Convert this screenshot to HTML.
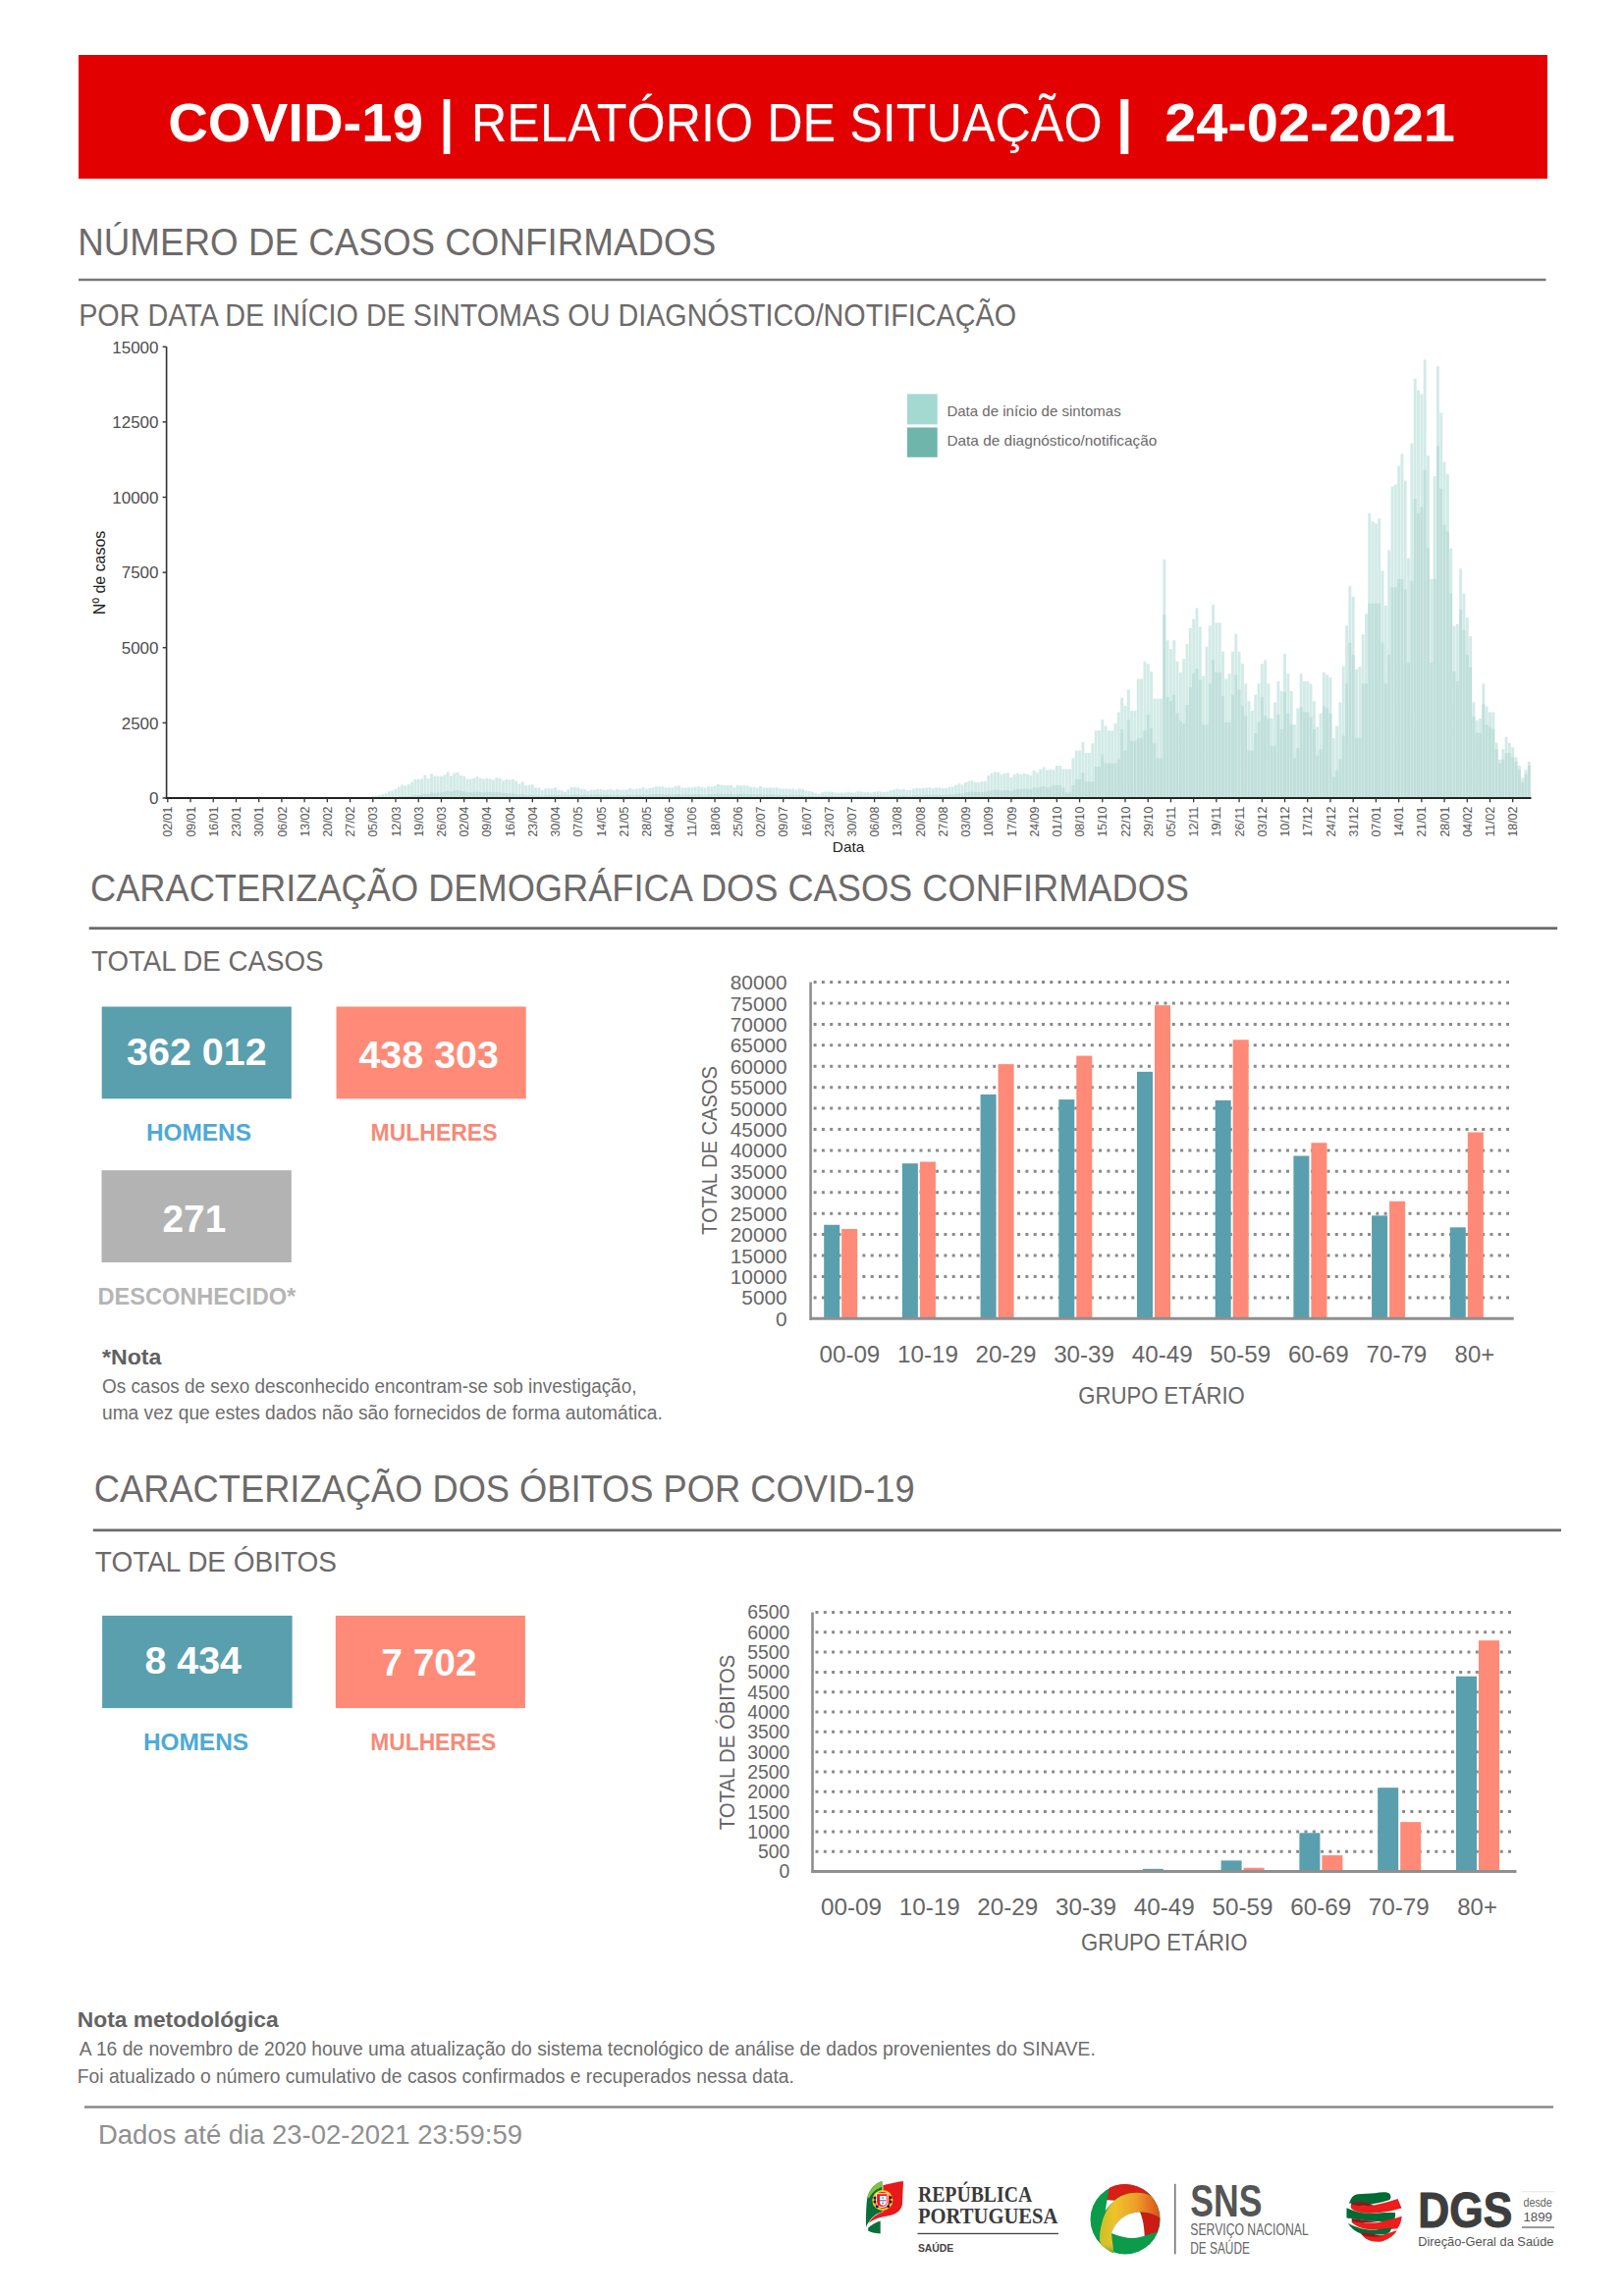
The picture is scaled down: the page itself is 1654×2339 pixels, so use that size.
<!DOCTYPE html>
<html><head><meta charset="utf-8"><title>COVID-19 Relatório de Situação</title>
<style>html,body{margin:0;padding:0;background:#fff;}body{width:1654px;height:2339px;overflow:hidden;position:relative;font-family:"Liberation Sans",sans-serif;}svg{position:absolute;left:0;top:0;}</style>
</head><body>
<svg width="1654" height="2339" viewBox="0 0 1654 2339">
<rect x="80.00" y="56.00" width="1496.00" height="126.00" fill="#e30000"/>
<text x="171.2" y="144.2" font-size="55.5" fill="#fff" font-weight="bold" text-anchor="start" textLength="259.8" lengthAdjust="spacingAndGlyphs" font-family="&quot;Liberation Sans&quot;, sans-serif">COVID-19</text>
<rect x="451.70" y="101.00" width="6.70" height="56.00" fill="#fff"/>
<text x="480.0" y="144.2" font-size="55.5" fill="#fff" text-anchor="start" textLength="642.6" lengthAdjust="spacingAndGlyphs" font-family="&quot;Liberation Sans&quot;, sans-serif">RELATÓRIO DE SITUAÇÃO</text>
<rect x="1141.30" y="101.00" width="8.00" height="56.00" fill="#fff"/>
<text x="1186.2" y="144.2" font-size="55.5" fill="#fff" font-weight="bold" text-anchor="start" textLength="295.8" lengthAdjust="spacingAndGlyphs" font-family="&quot;Liberation Sans&quot;, sans-serif">24-02-2021</text>
<text x="79.2" y="259.8" font-size="38.0" fill="#6d6a6a" text-anchor="start" textLength="650.0" lengthAdjust="spacingAndGlyphs" font-family="&quot;Liberation Sans&quot;, sans-serif">NÚMERO DE CASOS CONFIRMADOS</text>
<line x1="80.00" y1="285.00" x2="1574.50" y2="285.00" stroke="#7a7878" stroke-width="2.6"/>
<text x="80.2" y="332.2" font-size="31.0" fill="#6d6a6a" text-anchor="start" textLength="954.8" lengthAdjust="spacingAndGlyphs" font-family="&quot;Liberation Sans&quot;, sans-serif">POR DATA DE INÍCIO DE SINTOMAS OU DIAGNÓSTICO/NOTIFICAÇÃO</text>
<path d="M368.37 812.72h2.9V813.0h-2.9zM371.69 812.36h2.9V813.0h-2.9zM375.00 812.17h2.9V813.0h-2.9zM378.32 811.30h2.9V813.0h-2.9zM381.64 810.63h2.9V813.0h-2.9zM384.96 810.26h2.9V813.0h-2.9zM388.27 809.31h2.9V813.0h-2.9zM391.59 808.36h2.9V813.0h-2.9zM394.91 806.36h2.9V813.0h-2.9zM398.22 805.44h2.9V813.0h-2.9zM401.54 803.87h2.9V813.0h-2.9zM404.86 801.86h2.9V813.0h-2.9zM408.17 799.44h2.9V813.0h-2.9zM411.49 800.44h2.9V813.0h-2.9zM414.81 799.11h2.9V813.0h-2.9zM418.13 796.56h2.9V813.0h-2.9zM421.44 793.64h2.9V813.0h-2.9zM424.76 793.63h2.9V813.0h-2.9zM428.08 793.46h2.9V813.0h-2.9zM431.39 789.53h2.9V813.0h-2.9zM434.71 793.32h2.9V813.0h-2.9zM438.03 788.13h2.9V813.0h-2.9zM441.34 790.48h2.9V813.0h-2.9zM444.66 790.56h2.9V813.0h-2.9zM447.98 790.71h2.9V813.0h-2.9zM451.30 789.59h2.9V813.0h-2.9zM454.61 786.60h2.9V813.0h-2.9zM457.93 790.16h2.9V813.0h-2.9zM461.25 787.57h2.9V813.0h-2.9zM464.56 787.01h2.9V813.0h-2.9zM467.88 790.11h2.9V813.0h-2.9zM471.20 790.66h2.9V813.0h-2.9zM474.51 793.42h2.9V813.0h-2.9zM477.83 793.62h2.9V813.0h-2.9zM481.15 793.05h2.9V813.0h-2.9zM484.47 791.00h2.9V813.0h-2.9zM487.78 792.66h2.9V813.0h-2.9zM491.10 793.59h2.9V813.0h-2.9zM494.42 792.66h2.9V813.0h-2.9zM497.73 793.44h2.9V813.0h-2.9zM501.05 794.31h2.9V813.0h-2.9zM504.37 792.15h2.9V813.0h-2.9zM507.68 792.76h2.9V813.0h-2.9zM511.00 795.15h2.9V813.0h-2.9zM514.32 793.96h2.9V813.0h-2.9zM517.63 794.49h2.9V813.0h-2.9zM520.95 794.06h2.9V813.0h-2.9zM524.27 795.74h2.9V813.0h-2.9zM527.59 798.45h2.9V813.0h-2.9zM530.90 796.58h2.9V813.0h-2.9zM534.22 800.19h2.9V813.0h-2.9zM537.54 799.77h2.9V813.0h-2.9zM540.85 799.32h2.9V813.0h-2.9zM544.17 802.32h2.9V813.0h-2.9zM547.49 802.60h2.9V813.0h-2.9zM550.81 804.82h2.9V813.0h-2.9zM554.12 803.27h2.9V813.0h-2.9zM557.44 802.89h2.9V813.0h-2.9zM560.76 803.17h2.9V813.0h-2.9zM564.07 802.30h2.9V813.0h-2.9zM567.39 804.80h2.9V813.0h-2.9zM570.71 805.29h2.9V813.0h-2.9zM574.02 806.73h2.9V813.0h-2.9zM577.34 804.25h2.9V813.0h-2.9zM580.66 802.07h2.9V813.0h-2.9zM583.97 801.72h2.9V813.0h-2.9zM587.29 802.14h2.9V813.0h-2.9zM590.61 803.86h2.9V813.0h-2.9zM593.93 804.07h2.9V813.0h-2.9zM597.24 805.87h2.9V813.0h-2.9zM600.56 804.50h2.9V813.0h-2.9zM603.88 804.47h2.9V813.0h-2.9zM607.19 803.64h2.9V813.0h-2.9zM610.51 803.84h2.9V813.0h-2.9zM613.83 804.81h2.9V813.0h-2.9zM617.14 804.48h2.9V813.0h-2.9zM620.46 803.75h2.9V813.0h-2.9zM623.78 805.01h2.9V813.0h-2.9zM627.10 803.93h2.9V813.0h-2.9zM630.41 804.45h2.9V813.0h-2.9zM633.73 804.45h2.9V813.0h-2.9zM637.05 804.46h2.9V813.0h-2.9zM640.36 802.69h2.9V813.0h-2.9zM643.68 804.06h2.9V813.0h-2.9zM647.00 803.66h2.9V813.0h-2.9zM650.32 803.19h2.9V813.0h-2.9zM653.63 801.88h2.9V813.0h-2.9zM656.95 803.70h2.9V813.0h-2.9zM660.27 802.66h2.9V813.0h-2.9zM663.58 802.27h2.9V813.0h-2.9zM666.90 801.28h2.9V813.0h-2.9zM670.22 801.35h2.9V813.0h-2.9zM673.53 801.14h2.9V813.0h-2.9zM676.85 802.59h2.9V813.0h-2.9zM680.17 802.14h2.9V813.0h-2.9zM683.48 802.21h2.9V813.0h-2.9zM686.80 800.70h2.9V813.0h-2.9zM690.12 800.41h2.9V813.0h-2.9zM693.44 802.56h2.9V813.0h-2.9zM696.75 802.45h2.9V813.0h-2.9zM700.07 802.26h2.9V813.0h-2.9zM703.39 802.21h2.9V813.0h-2.9zM706.70 801.47h2.9V813.0h-2.9zM710.02 801.14h2.9V813.0h-2.9zM713.34 802.01h2.9V813.0h-2.9zM716.65 802.58h2.9V813.0h-2.9zM719.97 801.23h2.9V813.0h-2.9zM723.29 801.20h2.9V813.0h-2.9zM726.61 800.45h2.9V813.0h-2.9zM729.92 799.11h2.9V813.0h-2.9zM733.24 799.71h2.9V813.0h-2.9zM736.56 800.07h2.9V813.0h-2.9zM739.87 799.94h2.9V813.0h-2.9zM743.19 799.94h2.9V813.0h-2.9zM746.51 801.97h2.9V813.0h-2.9zM749.83 799.65h2.9V813.0h-2.9zM753.14 800.19h2.9V813.0h-2.9zM756.46 800.11h2.9V813.0h-2.9zM759.78 800.51h2.9V813.0h-2.9zM763.09 801.65h2.9V813.0h-2.9zM766.41 801.63h2.9V813.0h-2.9zM769.73 802.45h2.9V813.0h-2.9zM773.04 800.97h2.9V813.0h-2.9zM776.36 802.57h2.9V813.0h-2.9zM779.68 802.56h2.9V813.0h-2.9zM782.99 802.16h2.9V813.0h-2.9zM786.31 802.53h2.9V813.0h-2.9zM789.63 802.30h2.9V813.0h-2.9zM792.95 803.30h2.9V813.0h-2.9zM796.26 803.67h2.9V813.0h-2.9zM799.58 803.53h2.9V813.0h-2.9zM802.90 803.89h2.9V813.0h-2.9zM806.21 803.51h2.9V813.0h-2.9zM809.53 804.64h2.9V813.0h-2.9zM812.85 803.14h2.9V813.0h-2.9zM816.16 804.10h2.9V813.0h-2.9zM819.48 805.42h2.9V813.0h-2.9zM822.80 806.08h2.9V813.0h-2.9zM826.12 806.80h2.9V813.0h-2.9zM829.43 807.66h2.9V813.0h-2.9zM832.75 808.82h2.9V813.0h-2.9zM836.07 807.35h2.9V813.0h-2.9zM839.38 806.48h2.9V813.0h-2.9zM842.70 806.61h2.9V813.0h-2.9zM846.02 806.74h2.9V813.0h-2.9zM849.34 807.48h2.9V813.0h-2.9zM852.65 807.59h2.9V813.0h-2.9zM855.97 807.39h2.9V813.0h-2.9zM859.29 807.41h2.9V813.0h-2.9zM862.60 806.49h2.9V813.0h-2.9zM865.92 807.36h2.9V813.0h-2.9zM869.24 807.48h2.9V813.0h-2.9zM872.55 805.98h2.9V813.0h-2.9zM875.87 806.52h2.9V813.0h-2.9zM879.19 807.19h2.9V813.0h-2.9zM882.51 806.67h2.9V813.0h-2.9zM885.82 807.52h2.9V813.0h-2.9zM889.14 806.87h2.9V813.0h-2.9zM892.46 806.31h2.9V813.0h-2.9zM895.77 806.57h2.9V813.0h-2.9zM899.09 806.90h2.9V813.0h-2.9zM902.41 806.45h2.9V813.0h-2.9zM905.72 805.18h2.9V813.0h-2.9zM909.04 804.53h2.9V813.0h-2.9zM912.36 803.44h2.9V813.0h-2.9zM915.67 804.19h2.9V813.0h-2.9zM918.99 803.92h2.9V813.0h-2.9zM922.31 805.06h2.9V813.0h-2.9zM925.63 805.02h2.9V813.0h-2.9zM928.94 803.53h2.9V813.0h-2.9zM932.26 802.87h2.9V813.0h-2.9zM935.58 802.88h2.9V813.0h-2.9zM938.89 802.70h2.9V813.0h-2.9zM942.21 802.39h2.9V813.0h-2.9zM945.53 802.30h2.9V813.0h-2.9zM948.85 803.26h2.9V813.0h-2.9zM952.16 802.22h2.9V813.0h-2.9zM955.48 802.34h2.9V813.0h-2.9zM958.80 802.93h2.9V813.0h-2.9zM962.11 802.67h2.9V813.0h-2.9zM965.43 801.67h2.9V813.0h-2.9zM968.75 801.44h2.9V813.0h-2.9zM972.06 799.63h2.9V813.0h-2.9zM975.38 798.25h2.9V813.0h-2.9zM978.70 799.37h2.9V813.0h-2.9zM982.02 796.90h2.9V813.0h-2.9zM985.33 795.87h2.9V813.0h-2.9zM988.65 795.14h2.9V813.0h-2.9zM991.97 796.68h2.9V813.0h-2.9zM995.28 796.79h2.9V813.0h-2.9zM998.60 796.28h2.9V813.0h-2.9zM1001.92 795.94h2.9V813.0h-2.9zM1005.23 790.20h2.9V813.0h-2.9zM1008.55 787.84h2.9V813.0h-2.9zM1011.87 786.33h2.9V813.0h-2.9zM1015.18 786.79h2.9V813.0h-2.9zM1018.50 788.99h2.9V813.0h-2.9zM1021.82 788.09h2.9V813.0h-2.9zM1025.14 787.36h2.9V813.0h-2.9zM1028.45 791.74h2.9V813.0h-2.9zM1031.77 788.79h2.9V813.0h-2.9zM1035.09 787.74h2.9V813.0h-2.9zM1038.40 788.77h2.9V813.0h-2.9zM1041.72 788.05h2.9V813.0h-2.9zM1045.04 788.75h2.9V813.0h-2.9zM1048.36 789.72h2.9V813.0h-2.9zM1051.67 785.12h2.9V813.0h-2.9zM1054.99 787.24h2.9V813.0h-2.9zM1058.31 783.40h2.9V813.0h-2.9zM1061.62 781.42h2.9V813.0h-2.9zM1064.94 784.59h2.9V813.0h-2.9zM1068.26 783.80h2.9V813.0h-2.9zM1071.57 784.17h2.9V813.0h-2.9zM1074.89 779.88h2.9V813.0h-2.9zM1078.21 779.88h2.9V813.0h-2.9zM1081.53 783.56h2.9V813.0h-2.9zM1084.84 783.56h2.9V813.0h-2.9zM1088.16 783.56h2.9V813.0h-2.9zM1091.48 772.21h2.9V813.0h-2.9zM1094.79 764.54h2.9V813.0h-2.9zM1098.11 764.54h2.9V813.0h-2.9zM1101.43 755.95h2.9V813.0h-2.9zM1104.74 767.00h2.9V813.0h-2.9zM1108.06 767.00h2.9V813.0h-2.9zM1111.38 757.18h2.9V813.0h-2.9zM1114.69 744.30h2.9V813.0h-2.9zM1118.01 744.30h2.9V813.0h-2.9zM1121.33 733.26h2.9V813.0h-2.9zM1124.65 739.39h2.9V813.0h-2.9zM1127.96 744.30h2.9V813.0h-2.9zM1131.28 744.30h2.9V813.0h-2.9zM1134.60 736.94h2.9V813.0h-2.9zM1137.91 725.59h2.9V813.0h-2.9zM1141.23 710.87h2.9V813.0h-2.9zM1144.55 719.15h2.9V813.0h-2.9zM1147.87 702.59h2.9V813.0h-2.9zM1151.18 724.06h2.9V813.0h-2.9zM1154.50 724.06h2.9V813.0h-2.9zM1157.82 691.55h2.9V813.0h-2.9zM1161.13 691.55h2.9V813.0h-2.9zM1164.45 673.76h2.9V813.0h-2.9zM1167.77 676.21h2.9V813.0h-2.9zM1171.08 684.19h2.9V813.0h-2.9zM1174.40 711.79h2.9V813.0h-2.9zM1177.72 711.79h2.9V813.0h-2.9zM1181.04 711.79h2.9V813.0h-2.9zM1184.35 570.09h2.9V813.0h-2.9zM1187.67 652.29h2.9V813.0h-2.9zM1190.99 661.18h2.9V813.0h-2.9zM1194.30 652.29h2.9V813.0h-2.9zM1197.62 673.76h2.9V813.0h-2.9zM1200.94 685.11h2.9V813.0h-2.9zM1204.25 671.30h2.9V813.0h-2.9zM1207.57 655.97h2.9V813.0h-2.9zM1210.89 639.71h2.9V813.0h-2.9zM1214.20 630.82h2.9V813.0h-2.9zM1217.52 619.47h2.9V813.0h-2.9zM1220.84 638.49h2.9V813.0h-2.9zM1224.16 688.79h2.9V813.0h-2.9zM1227.47 658.73h2.9V813.0h-2.9zM1230.79 637.26h2.9V813.0h-2.9zM1234.11 615.79h2.9V813.0h-2.9zM1237.42 634.50h2.9V813.0h-2.9zM1240.74 634.50h2.9V813.0h-2.9zM1244.06 663.64h2.9V813.0h-2.9zM1247.38 691.55h2.9V813.0h-2.9zM1250.69 686.33h2.9V813.0h-2.9zM1254.01 663.64h2.9V813.0h-2.9zM1257.33 645.85h2.9V813.0h-2.9zM1260.64 663.64h2.9V813.0h-2.9zM1263.96 676.21h2.9V813.0h-2.9zM1267.28 696.45h2.9V813.0h-2.9zM1270.59 714.24h2.9V813.0h-2.9zM1273.91 724.06h2.9V813.0h-2.9zM1277.23 707.80h2.9V813.0h-2.9zM1280.55 696.45h2.9V813.0h-2.9zM1283.86 676.21h2.9V813.0h-2.9zM1287.18 672.53h2.9V813.0h-2.9zM1290.50 696.45h2.9V813.0h-2.9zM1293.81 731.72h2.9V813.0h-2.9zM1297.13 715.47h2.9V813.0h-2.9zM1300.45 694.00h2.9V813.0h-2.9zM1303.76 704.12h2.9V813.0h-2.9zM1307.08 666.09h2.9V813.0h-2.9zM1310.40 686.33h2.9V813.0h-2.9zM1313.71 704.12h2.9V813.0h-2.9zM1317.03 738.17h2.9V813.0h-2.9zM1320.35 721.60h2.9V813.0h-2.9zM1323.67 686.33h2.9V813.0h-2.9zM1326.98 694.00h2.9V813.0h-2.9zM1330.30 694.00h2.9V813.0h-2.9zM1333.62 696.45h2.9V813.0h-2.9zM1336.93 714.24h2.9V813.0h-2.9zM1340.25 740.62h2.9V813.0h-2.9zM1343.57 726.82h2.9V813.0h-2.9zM1346.88 685.11h2.9V813.0h-2.9zM1350.20 687.56h2.9V813.0h-2.9zM1353.52 690.32h2.9V813.0h-2.9zM1356.84 751.97h2.9V813.0h-2.9zM1360.15 739.39h2.9V813.0h-2.9zM1363.47 715.47h2.9V813.0h-2.9zM1366.79 678.67h2.9V813.0h-2.9zM1370.10 637.26h2.9V813.0h-2.9zM1373.42 596.78h2.9V813.0h-2.9zM1376.74 608.12h2.9V813.0h-2.9zM1380.06 681.73h2.9V813.0h-2.9zM1383.37 679.59h2.9V813.0h-2.9zM1386.69 646.16h2.9V813.0h-2.9zM1390.01 625.30h2.9V813.0h-2.9zM1393.32 522.86h2.9V813.0h-2.9zM1396.64 531.14h2.9V813.0h-2.9zM1399.96 533.29h2.9V813.0h-2.9zM1403.27 528.08h2.9V813.0h-2.9zM1406.59 581.44h2.9V813.0h-2.9zM1409.91 617.02h2.9V813.0h-2.9zM1413.22 560.59h2.9V813.0h-2.9zM1416.54 495.57h2.9V813.0h-2.9zM1419.86 493.42h2.9V813.0h-2.9zM1423.18 474.71h2.9V813.0h-2.9zM1426.49 462.14h2.9V813.0h-2.9zM1429.81 489.43h2.9V813.0h-2.9zM1433.13 568.87h2.9V813.0h-2.9zM1436.44 451.71h2.9V813.0h-2.9zM1439.76 385.77h2.9V813.0h-2.9zM1443.08 397.42h2.9V813.0h-2.9zM1446.39 401.41h2.9V813.0h-2.9zM1449.71 366.14h2.9V813.0h-2.9zM1453.03 464.28h2.9V813.0h-2.9zM1456.35 589.72h2.9V813.0h-2.9zM1459.66 485.14h2.9V813.0h-2.9zM1462.98 373.19h2.9V813.0h-2.9zM1466.30 420.42h2.9V813.0h-2.9zM1469.61 470.42h2.9V813.0h-2.9zM1472.93 482.99h2.9V813.0h-2.9zM1476.25 558.44h2.9V813.0h-2.9zM1479.57 637.87h2.9V813.0h-2.9zM1482.88 635.73h2.9V813.0h-2.9zM1486.20 579.29h2.9V813.0h-2.9zM1489.52 604.44h2.9V813.0h-2.9zM1492.83 629.29h2.9V813.0h-2.9zM1496.15 648.30h2.9V813.0h-2.9zM1499.47 715.16h2.9V813.0h-2.9zM1502.78 733.87h2.9V813.0h-2.9zM1506.10 732.03h2.9V813.0h-2.9zM1509.42 696.45h2.9V813.0h-2.9zM1512.73 719.46h2.9V813.0h-2.9zM1516.05 725.59h2.9V813.0h-2.9zM1519.37 725.59h2.9V813.0h-2.9zM1522.69 756.87h2.9V813.0h-2.9zM1526.00 773.74h2.9V813.0h-2.9zM1529.32 763.31h2.9V813.0h-2.9zM1532.64 750.74h2.9V813.0h-2.9zM1535.95 756.87h2.9V813.0h-2.9zM1539.27 761.17h2.9V813.0h-2.9zM1542.59 771.60h2.9V813.0h-2.9zM1545.90 779.88h2.9V813.0h-2.9zM1549.22 792.45h2.9V813.0h-2.9zM1552.54 784.17h2.9V813.0h-2.9zM1555.86 775.89h2.9V813.0h-2.9z" fill="#d2ebe7"/>
<path d="M391.59 812.73h2.9V813.0h-2.9zM394.91 812.40h2.9V813.0h-2.9zM398.22 812.17h2.9V813.0h-2.9zM401.54 811.89h2.9V813.0h-2.9zM404.86 811.59h2.9V813.0h-2.9zM408.17 811.24h2.9V813.0h-2.9zM411.49 811.33h2.9V813.0h-2.9zM414.81 811.00h2.9V813.0h-2.9zM418.13 810.47h2.9V813.0h-2.9zM421.44 809.94h2.9V813.0h-2.9zM424.76 809.88h2.9V813.0h-2.9zM428.08 809.51h2.9V813.0h-2.9zM431.39 808.44h2.9V813.0h-2.9zM434.71 808.90h2.9V813.0h-2.9zM438.03 807.45h2.9V813.0h-2.9zM441.34 807.66h2.9V813.0h-2.9zM444.66 807.39h2.9V813.0h-2.9zM447.98 807.24h2.9V813.0h-2.9zM451.30 806.76h2.9V813.0h-2.9zM454.61 805.74h2.9V813.0h-2.9zM457.93 806.49h2.9V813.0h-2.9zM461.25 805.50h2.9V813.0h-2.9zM464.56 805.08h2.9V813.0h-2.9zM467.88 806.01h2.9V813.0h-2.9zM471.20 806.18h2.9V813.0h-2.9zM474.51 807.14h2.9V813.0h-2.9zM477.83 807.33h2.9V813.0h-2.9zM481.15 807.30h2.9V813.0h-2.9zM484.47 806.60h2.9V813.0h-2.9zM487.78 806.97h2.9V813.0h-2.9zM491.10 807.14h2.9V813.0h-2.9zM494.42 806.74h2.9V813.0h-2.9zM497.73 807.09h2.9V813.0h-2.9zM501.05 807.45h2.9V813.0h-2.9zM504.37 806.93h2.9V813.0h-2.9zM507.68 807.22h2.9V813.0h-2.9zM511.00 808.11h2.9V813.0h-2.9zM514.32 808.01h2.9V813.0h-2.9zM517.63 808.37h2.9V813.0h-2.9zM520.95 808.32h2.9V813.0h-2.9zM524.27 808.79h2.9V813.0h-2.9zM527.59 809.51h2.9V813.0h-2.9zM530.90 809.07h2.9V813.0h-2.9zM534.22 809.94h2.9V813.0h-2.9zM537.54 809.84h2.9V813.0h-2.9zM540.85 809.74h2.9V813.0h-2.9zM544.17 810.38h2.9V813.0h-2.9zM547.49 810.35h2.9V813.0h-2.9zM550.81 810.82h2.9V813.0h-2.9zM554.12 810.29h2.9V813.0h-2.9zM557.44 810.06h2.9V813.0h-2.9zM560.76 810.04h2.9V813.0h-2.9zM564.07 809.66h2.9V813.0h-2.9zM567.39 810.27h2.9V813.0h-2.9zM570.71 810.22h2.9V813.0h-2.9zM574.02 810.49h2.9V813.0h-2.9zM577.34 810.19h2.9V813.0h-2.9zM580.66 809.97h2.9V813.0h-2.9zM583.97 809.68h2.9V813.0h-2.9zM587.29 809.61h2.9V813.0h-2.9zM590.61 809.95h2.9V813.0h-2.9zM593.93 809.81h2.9V813.0h-2.9zM597.24 810.26h2.9V813.0h-2.9zM600.56 809.78h2.9V813.0h-2.9zM603.88 809.82h2.9V813.0h-2.9zM607.19 809.57h2.9V813.0h-2.9zM610.51 809.70h2.9V813.0h-2.9zM613.83 810.09h2.9V813.0h-2.9zM617.14 810.02h2.9V813.0h-2.9zM620.46 809.81h2.9V813.0h-2.9zM623.78 810.28h2.9V813.0h-2.9zM627.10 809.96h2.9V813.0h-2.9zM630.41 810.18h2.9V813.0h-2.9zM633.73 810.21h2.9V813.0h-2.9zM637.05 810.26h2.9V813.0h-2.9zM640.36 809.74h2.9V813.0h-2.9zM643.68 810.21h2.9V813.0h-2.9zM647.00 810.04h2.9V813.0h-2.9zM650.32 809.84h2.9V813.0h-2.9zM653.63 809.37h2.9V813.0h-2.9zM656.95 809.93h2.9V813.0h-2.9zM660.27 809.54h2.9V813.0h-2.9zM663.58 809.36h2.9V813.0h-2.9zM666.90 808.98h2.9V813.0h-2.9zM670.22 809.04h2.9V813.0h-2.9zM673.53 809.00h2.9V813.0h-2.9zM676.85 809.52h2.9V813.0h-2.9zM680.17 809.39h2.9V813.0h-2.9zM683.48 809.44h2.9V813.0h-2.9zM686.80 808.98h2.9V813.0h-2.9zM690.12 808.92h2.9V813.0h-2.9zM693.44 809.63h2.9V813.0h-2.9zM696.75 809.61h2.9V813.0h-2.9zM700.07 809.56h2.9V813.0h-2.9zM703.39 809.56h2.9V813.0h-2.9zM706.70 809.33h2.9V813.0h-2.9zM710.02 809.24h2.9V813.0h-2.9zM713.34 809.53h2.9V813.0h-2.9zM716.65 809.72h2.9V813.0h-2.9zM719.97 809.31h2.9V813.0h-2.9zM723.29 809.31h2.9V813.0h-2.9zM726.61 809.08h2.9V813.0h-2.9zM729.92 808.68h2.9V813.0h-2.9zM733.24 808.88h2.9V813.0h-2.9zM736.56 809.00h2.9V813.0h-2.9zM739.87 808.90h2.9V813.0h-2.9zM743.19 808.84h2.9V813.0h-2.9zM746.51 809.44h2.9V813.0h-2.9zM749.83 808.63h2.9V813.0h-2.9zM753.14 808.74h2.9V813.0h-2.9zM756.46 808.65h2.9V813.0h-2.9zM759.78 808.73h2.9V813.0h-2.9zM763.09 809.16h2.9V813.0h-2.9zM766.41 809.20h2.9V813.0h-2.9zM769.73 809.51h2.9V813.0h-2.9zM773.04 809.07h2.9V813.0h-2.9zM776.36 809.63h2.9V813.0h-2.9zM779.68 809.66h2.9V813.0h-2.9zM782.99 809.58h2.9V813.0h-2.9zM786.31 809.70h2.9V813.0h-2.9zM789.63 809.63h2.9V813.0h-2.9zM792.95 809.95h2.9V813.0h-2.9zM796.26 810.07h2.9V813.0h-2.9zM799.58 810.03h2.9V813.0h-2.9zM802.90 810.15h2.9V813.0h-2.9zM806.21 810.03h2.9V813.0h-2.9zM809.53 810.42h2.9V813.0h-2.9zM812.85 809.99h2.9V813.0h-2.9zM816.16 810.32h2.9V813.0h-2.9zM819.48 810.75h2.9V813.0h-2.9zM822.80 810.84h2.9V813.0h-2.9zM826.12 810.93h2.9V813.0h-2.9zM829.43 811.07h2.9V813.0h-2.9zM832.75 811.33h2.9V813.0h-2.9zM836.07 810.89h2.9V813.0h-2.9zM839.38 810.71h2.9V813.0h-2.9zM842.70 810.87h2.9V813.0h-2.9zM846.02 810.86h2.9V813.0h-2.9zM849.34 811.07h2.9V813.0h-2.9zM852.65 811.06h2.9V813.0h-2.9zM855.97 810.93h2.9V813.0h-2.9zM859.29 810.97h2.9V813.0h-2.9zM862.60 810.68h2.9V813.0h-2.9zM865.92 811.03h2.9V813.0h-2.9zM869.24 811.10h2.9V813.0h-2.9zM872.55 810.62h2.9V813.0h-2.9zM875.87 810.84h2.9V813.0h-2.9zM879.19 811.04h2.9V813.0h-2.9zM882.51 810.83h2.9V813.0h-2.9zM885.82 811.10h2.9V813.0h-2.9zM889.14 810.84h2.9V813.0h-2.9zM892.46 810.61h2.9V813.0h-2.9zM895.77 810.67h2.9V813.0h-2.9zM899.09 810.75h2.9V813.0h-2.9zM902.41 810.88h2.9V813.0h-2.9zM905.72 810.72h2.9V813.0h-2.9zM909.04 810.74h2.9V813.0h-2.9zM912.36 810.39h2.9V813.0h-2.9zM915.67 810.53h2.9V813.0h-2.9zM918.99 810.38h2.9V813.0h-2.9zM922.31 810.65h2.9V813.0h-2.9zM925.63 810.63h2.9V813.0h-2.9zM928.94 810.17h2.9V813.0h-2.9zM932.26 809.97h2.9V813.0h-2.9zM935.58 809.96h2.9V813.0h-2.9zM938.89 809.90h2.9V813.0h-2.9zM942.21 809.79h2.9V813.0h-2.9zM945.53 809.76h2.9V813.0h-2.9zM948.85 810.05h2.9V813.0h-2.9zM952.16 809.74h2.9V813.0h-2.9zM955.48 809.79h2.9V813.0h-2.9zM958.80 809.97h2.9V813.0h-2.9zM962.11 809.89h2.9V813.0h-2.9zM965.43 809.60h2.9V813.0h-2.9zM968.75 809.53h2.9V813.0h-2.9zM972.06 808.83h2.9V813.0h-2.9zM975.38 808.24h2.9V813.0h-2.9zM978.70 808.46h2.9V813.0h-2.9zM982.02 807.49h2.9V813.0h-2.9zM985.33 807.00h2.9V813.0h-2.9zM988.65 806.62h2.9V813.0h-2.9zM991.97 807.07h2.9V813.0h-2.9zM995.28 807.09h2.9V813.0h-2.9zM998.60 806.89h2.9V813.0h-2.9zM1001.92 806.74h2.9V813.0h-2.9zM1005.23 805.88h2.9V813.0h-2.9zM1008.55 805.10h2.9V813.0h-2.9zM1011.87 804.60h2.9V813.0h-2.9zM1015.18 804.71h2.9V813.0h-2.9zM1018.50 805.37h2.9V813.0h-2.9zM1021.82 805.05h2.9V813.0h-2.9zM1025.14 804.78h2.9V813.0h-2.9zM1028.45 805.89h2.9V813.0h-2.9zM1031.77 804.56h2.9V813.0h-2.9zM1035.09 803.82h2.9V813.0h-2.9zM1038.40 803.83h2.9V813.0h-2.9zM1041.72 803.49h2.9V813.0h-2.9zM1045.04 803.69h2.9V813.0h-2.9zM1048.36 804.01h2.9V813.0h-2.9zM1051.67 802.18h2.9V813.0h-2.9zM1054.99 803.04h2.9V813.0h-2.9zM1058.31 801.60h2.9V813.0h-2.9zM1061.62 800.88h2.9V813.0h-2.9zM1064.94 802.14h2.9V813.0h-2.9zM1068.26 801.87h2.9V813.0h-2.9zM1071.57 800.12h2.9V813.0h-2.9zM1074.89 800.12h2.9V813.0h-2.9zM1078.21 800.12h2.9V813.0h-2.9zM1081.53 802.27h2.9V813.0h-2.9zM1084.84 807.48h2.9V813.0h-2.9zM1088.16 807.48h2.9V813.0h-2.9zM1091.48 800.12h2.9V813.0h-2.9zM1094.79 793.68h2.9V813.0h-2.9zM1098.11 793.68h2.9V813.0h-2.9zM1101.43 787.24h2.9V813.0h-2.9zM1104.74 796.13h2.9V813.0h-2.9zM1108.06 796.13h2.9V813.0h-2.9zM1111.38 796.13h2.9V813.0h-2.9zM1114.69 781.10h2.9V813.0h-2.9zM1118.01 781.10h2.9V813.0h-2.9zM1121.33 768.53h2.9V813.0h-2.9zM1124.65 777.42h2.9V813.0h-2.9zM1127.96 777.42h2.9V813.0h-2.9zM1131.28 777.42h2.9V813.0h-2.9zM1134.60 777.42h2.9V813.0h-2.9zM1137.91 773.44h2.9V813.0h-2.9zM1141.23 743.07h2.9V813.0h-2.9zM1144.55 764.54h2.9V813.0h-2.9zM1147.87 733.26h2.9V813.0h-2.9zM1151.18 754.73h2.9V813.0h-2.9zM1154.50 754.73h2.9V813.0h-2.9zM1157.82 751.66h2.9V813.0h-2.9zM1161.13 751.66h2.9V813.0h-2.9zM1164.45 744.30h2.9V813.0h-2.9zM1167.77 728.04h2.9V813.0h-2.9zM1171.08 741.85h2.9V813.0h-2.9zM1174.40 757.18h2.9V813.0h-2.9zM1177.72 772.21h2.9V813.0h-2.9zM1181.04 772.21h2.9V813.0h-2.9zM1184.35 625.91h2.9V813.0h-2.9zM1187.67 710.26h2.9V813.0h-2.9zM1190.99 714.24h2.9V813.0h-2.9zM1194.30 707.80h2.9V813.0h-2.9zM1197.62 726.82h2.9V813.0h-2.9zM1200.94 734.48h2.9V813.0h-2.9zM1204.25 736.94h2.9V813.0h-2.9zM1207.57 717.92h2.9V813.0h-2.9zM1210.89 700.13h2.9V813.0h-2.9zM1214.20 686.33h2.9V813.0h-2.9zM1217.52 681.12h2.9V813.0h-2.9zM1220.84 692.77h2.9V813.0h-2.9zM1224.16 738.17h2.9V813.0h-2.9zM1227.47 738.17h2.9V813.0h-2.9zM1230.79 696.45h2.9V813.0h-2.9zM1234.11 672.53h2.9V813.0h-2.9zM1237.42 685.11h2.9V813.0h-2.9zM1240.74 685.11h2.9V813.0h-2.9zM1244.06 709.03h2.9V813.0h-2.9zM1247.38 735.71h2.9V813.0h-2.9zM1250.69 735.71h2.9V813.0h-2.9zM1254.01 707.80h2.9V813.0h-2.9zM1257.33 687.56h2.9V813.0h-2.9zM1260.64 702.59h2.9V813.0h-2.9zM1263.96 719.15h2.9V813.0h-2.9zM1267.28 729.27h2.9V813.0h-2.9zM1270.59 764.54h2.9V813.0h-2.9zM1273.91 764.54h2.9V813.0h-2.9zM1277.23 747.06h2.9V813.0h-2.9zM1280.55 735.71h2.9V813.0h-2.9zM1283.86 710.26h2.9V813.0h-2.9zM1287.18 729.27h2.9V813.0h-2.9zM1290.50 731.72h2.9V813.0h-2.9zM1293.81 759.63h2.9V813.0h-2.9zM1297.13 759.63h2.9V813.0h-2.9zM1300.45 728.04h2.9V813.0h-2.9zM1303.76 743.07h2.9V813.0h-2.9zM1307.08 705.35h2.9V813.0h-2.9zM1310.40 726.82h2.9V813.0h-2.9zM1313.71 738.17h2.9V813.0h-2.9zM1317.03 772.21h2.9V813.0h-2.9zM1320.35 762.09h2.9V813.0h-2.9zM1323.67 720.38h2.9V813.0h-2.9zM1326.98 725.59h2.9V813.0h-2.9zM1330.30 725.59h2.9V813.0h-2.9zM1333.62 730.50h2.9V813.0h-2.9zM1336.93 743.07h2.9V813.0h-2.9zM1340.25 769.76h2.9V813.0h-2.9zM1343.57 763.31h2.9V813.0h-2.9zM1346.88 719.15h2.9V813.0h-2.9zM1350.20 721.60h2.9V813.0h-2.9zM1353.52 726.82h2.9V813.0h-2.9zM1356.84 791.22h2.9V813.0h-2.9zM1360.15 784.78h2.9V813.0h-2.9zM1363.47 773.44h2.9V813.0h-2.9zM1366.79 749.51h2.9V813.0h-2.9zM1370.10 696.45h2.9V813.0h-2.9zM1373.42 654.74h2.9V813.0h-2.9zM1376.74 667.32h2.9V813.0h-2.9zM1380.06 751.66h2.9V813.0h-2.9zM1383.37 751.66h2.9V813.0h-2.9zM1386.69 696.45h2.9V813.0h-2.9zM1390.01 696.45h2.9V813.0h-2.9zM1393.32 614.87h2.9V813.0h-2.9zM1396.64 614.87h2.9V813.0h-2.9zM1399.96 614.87h2.9V813.0h-2.9zM1403.27 614.87h2.9V813.0h-2.9zM1406.59 654.44h2.9V813.0h-2.9zM1409.91 696.45h2.9V813.0h-2.9zM1413.22 667.01h2.9V813.0h-2.9zM1416.54 598.31h2.9V813.0h-2.9zM1419.86 598.31h2.9V813.0h-2.9zM1423.18 589.72h2.9V813.0h-2.9zM1426.49 589.72h2.9V813.0h-2.9zM1429.81 600.15h2.9V813.0h-2.9zM1433.13 675.29h2.9V813.0h-2.9zM1436.44 591.87h2.9V813.0h-2.9zM1439.76 508.14h2.9V813.0h-2.9zM1443.08 522.86h2.9V813.0h-2.9zM1446.39 516.42h2.9V813.0h-2.9zM1449.71 478.70h2.9V813.0h-2.9zM1453.03 558.13h2.9V813.0h-2.9zM1456.35 675.29h2.9V813.0h-2.9zM1459.66 589.72h2.9V813.0h-2.9zM1462.98 454.16h2.9V813.0h-2.9zM1466.30 497.71h2.9V813.0h-2.9zM1469.61 534.82h2.9V813.0h-2.9zM1472.93 541.57h2.9V813.0h-2.9zM1476.25 604.44h2.9V813.0h-2.9zM1479.57 683.88h2.9V813.0h-2.9zM1482.88 694.31h2.9V813.0h-2.9zM1486.20 621.01h2.9V813.0h-2.9zM1489.52 641.86h2.9V813.0h-2.9zM1492.83 667.01h2.9V813.0h-2.9zM1496.15 679.59h2.9V813.0h-2.9zM1499.47 729.88h2.9V813.0h-2.9zM1502.78 746.45h2.9V813.0h-2.9zM1506.10 746.45h2.9V813.0h-2.9zM1509.42 717.31h2.9V813.0h-2.9zM1512.73 738.17h2.9V813.0h-2.9zM1516.05 740.31h2.9V813.0h-2.9zM1519.37 742.46h2.9V813.0h-2.9zM1522.69 763.31h2.9V813.0h-2.9zM1526.00 777.73h2.9V813.0h-2.9zM1529.32 773.74h2.9V813.0h-2.9zM1532.64 767.30h2.9V813.0h-2.9zM1535.95 767.30h2.9V813.0h-2.9zM1539.27 771.60h2.9V813.0h-2.9zM1542.59 775.89h2.9V813.0h-2.9zM1545.90 784.17h2.9V813.0h-2.9zM1549.22 796.74h2.9V813.0h-2.9zM1552.54 788.46h2.9V813.0h-2.9zM1555.86 779.88h2.9V813.0h-2.9z" fill="#c0dfda"/>
<line x1="169.60" y1="353.30" x2="169.60" y2="813.80" stroke="#333" stroke-width="1.6"/>
<line x1="168.80" y1="813.00" x2="1559.50" y2="813.00" stroke="#222" stroke-width="1.8"/>
<line x1="165.60" y1="813.00" x2="169.60" y2="813.00" stroke="#333" stroke-width="1.4"/>
<text x="161.5" y="819.2" font-size="17.0" fill="#4d4d4d" text-anchor="end" font-family="&quot;Liberation Sans&quot;, sans-serif">0</text>
<line x1="165.60" y1="736.38" x2="169.60" y2="736.38" stroke="#333" stroke-width="1.4"/>
<text x="161.5" y="742.6" font-size="17.0" fill="#4d4d4d" text-anchor="end" font-family="&quot;Liberation Sans&quot;, sans-serif">2500</text>
<line x1="165.60" y1="659.76" x2="169.60" y2="659.76" stroke="#333" stroke-width="1.4"/>
<text x="161.5" y="666.0" font-size="17.0" fill="#4d4d4d" text-anchor="end" font-family="&quot;Liberation Sans&quot;, sans-serif">5000</text>
<line x1="165.60" y1="583.14" x2="169.60" y2="583.14" stroke="#333" stroke-width="1.4"/>
<text x="161.5" y="589.3" font-size="17.0" fill="#4d4d4d" text-anchor="end" font-family="&quot;Liberation Sans&quot;, sans-serif">7500</text>
<line x1="165.60" y1="506.52" x2="169.60" y2="506.52" stroke="#333" stroke-width="1.4"/>
<text x="161.5" y="512.7" font-size="17.0" fill="#4d4d4d" text-anchor="end" font-family="&quot;Liberation Sans&quot;, sans-serif">10000</text>
<line x1="165.60" y1="429.90" x2="169.60" y2="429.90" stroke="#333" stroke-width="1.4"/>
<text x="161.5" y="436.1" font-size="17.0" fill="#4d4d4d" text-anchor="end" font-family="&quot;Liberation Sans&quot;, sans-serif">12500</text>
<line x1="165.60" y1="353.28" x2="169.60" y2="353.28" stroke="#333" stroke-width="1.4"/>
<text x="161.5" y="359.5" font-size="17.0" fill="#4d4d4d" text-anchor="end" font-family="&quot;Liberation Sans&quot;, sans-serif">15000</text>
<text x="0.0" y="0.0" font-size="17.0" fill="#222" text-anchor="middle" textLength="85.5" lengthAdjust="spacingAndGlyphs" font-family="&quot;Liberation Sans&quot;, sans-serif" transform="translate(107.2 583.5) rotate(-90)">Nº de casos</text>
<line x1="170.80" y1="813.00" x2="170.80" y2="817.30" stroke="#333" stroke-width="1.3"/>
<text x="0.0" y="0.0" font-size="12.8" fill="#555555" text-anchor="end" textLength="31.0" lengthAdjust="spacingAndGlyphs" font-family="&quot;Liberation Sans&quot;, sans-serif" transform="translate(175.40 821.6) rotate(-90)">02/01</text>
<line x1="194.02" y1="813.00" x2="194.02" y2="817.30" stroke="#333" stroke-width="1.3"/>
<text x="0.0" y="0.0" font-size="12.8" fill="#555555" text-anchor="end" textLength="31.0" lengthAdjust="spacingAndGlyphs" font-family="&quot;Liberation Sans&quot;, sans-serif" transform="translate(198.62 821.6) rotate(-90)">09/01</text>
<line x1="217.24" y1="813.00" x2="217.24" y2="817.30" stroke="#333" stroke-width="1.3"/>
<text x="0.0" y="0.0" font-size="12.8" fill="#555555" text-anchor="end" textLength="31.0" lengthAdjust="spacingAndGlyphs" font-family="&quot;Liberation Sans&quot;, sans-serif" transform="translate(221.84 821.6) rotate(-90)">16/01</text>
<line x1="240.46" y1="813.00" x2="240.46" y2="817.30" stroke="#333" stroke-width="1.3"/>
<text x="0.0" y="0.0" font-size="12.8" fill="#555555" text-anchor="end" textLength="31.0" lengthAdjust="spacingAndGlyphs" font-family="&quot;Liberation Sans&quot;, sans-serif" transform="translate(245.06 821.6) rotate(-90)">23/01</text>
<line x1="263.68" y1="813.00" x2="263.68" y2="817.30" stroke="#333" stroke-width="1.3"/>
<text x="0.0" y="0.0" font-size="12.8" fill="#555555" text-anchor="end" textLength="31.0" lengthAdjust="spacingAndGlyphs" font-family="&quot;Liberation Sans&quot;, sans-serif" transform="translate(268.28 821.6) rotate(-90)">30/01</text>
<line x1="286.89" y1="813.00" x2="286.89" y2="817.30" stroke="#333" stroke-width="1.3"/>
<text x="0.0" y="0.0" font-size="12.8" fill="#555555" text-anchor="end" textLength="31.0" lengthAdjust="spacingAndGlyphs" font-family="&quot;Liberation Sans&quot;, sans-serif" transform="translate(291.50 821.6) rotate(-90)">06/02</text>
<line x1="310.11" y1="813.00" x2="310.11" y2="817.30" stroke="#333" stroke-width="1.3"/>
<text x="0.0" y="0.0" font-size="12.8" fill="#555555" text-anchor="end" textLength="31.0" lengthAdjust="spacingAndGlyphs" font-family="&quot;Liberation Sans&quot;, sans-serif" transform="translate(314.71 821.6) rotate(-90)">13/02</text>
<line x1="333.33" y1="813.00" x2="333.33" y2="817.30" stroke="#333" stroke-width="1.3"/>
<text x="0.0" y="0.0" font-size="12.8" fill="#555555" text-anchor="end" textLength="31.0" lengthAdjust="spacingAndGlyphs" font-family="&quot;Liberation Sans&quot;, sans-serif" transform="translate(337.93 821.6) rotate(-90)">20/02</text>
<line x1="356.55" y1="813.00" x2="356.55" y2="817.30" stroke="#333" stroke-width="1.3"/>
<text x="0.0" y="0.0" font-size="12.8" fill="#555555" text-anchor="end" textLength="31.0" lengthAdjust="spacingAndGlyphs" font-family="&quot;Liberation Sans&quot;, sans-serif" transform="translate(361.15 821.6) rotate(-90)">27/02</text>
<line x1="379.77" y1="813.00" x2="379.77" y2="817.30" stroke="#333" stroke-width="1.3"/>
<text x="0.0" y="0.0" font-size="12.8" fill="#555555" text-anchor="end" textLength="31.0" lengthAdjust="spacingAndGlyphs" font-family="&quot;Liberation Sans&quot;, sans-serif" transform="translate(384.37 821.6) rotate(-90)">05/03</text>
<line x1="402.99" y1="813.00" x2="402.99" y2="817.30" stroke="#333" stroke-width="1.3"/>
<text x="0.0" y="0.0" font-size="12.8" fill="#555555" text-anchor="end" textLength="31.0" lengthAdjust="spacingAndGlyphs" font-family="&quot;Liberation Sans&quot;, sans-serif" transform="translate(407.59 821.6) rotate(-90)">12/03</text>
<line x1="426.21" y1="813.00" x2="426.21" y2="817.30" stroke="#333" stroke-width="1.3"/>
<text x="0.0" y="0.0" font-size="12.8" fill="#555555" text-anchor="end" textLength="31.0" lengthAdjust="spacingAndGlyphs" font-family="&quot;Liberation Sans&quot;, sans-serif" transform="translate(430.81 821.6) rotate(-90)">19/03</text>
<line x1="449.43" y1="813.00" x2="449.43" y2="817.30" stroke="#333" stroke-width="1.3"/>
<text x="0.0" y="0.0" font-size="12.8" fill="#555555" text-anchor="end" textLength="31.0" lengthAdjust="spacingAndGlyphs" font-family="&quot;Liberation Sans&quot;, sans-serif" transform="translate(454.03 821.6) rotate(-90)">26/03</text>
<line x1="472.65" y1="813.00" x2="472.65" y2="817.30" stroke="#333" stroke-width="1.3"/>
<text x="0.0" y="0.0" font-size="12.8" fill="#555555" text-anchor="end" textLength="31.0" lengthAdjust="spacingAndGlyphs" font-family="&quot;Liberation Sans&quot;, sans-serif" transform="translate(477.25 821.6) rotate(-90)">02/04</text>
<line x1="495.87" y1="813.00" x2="495.87" y2="817.30" stroke="#333" stroke-width="1.3"/>
<text x="0.0" y="0.0" font-size="12.8" fill="#555555" text-anchor="end" textLength="31.0" lengthAdjust="spacingAndGlyphs" font-family="&quot;Liberation Sans&quot;, sans-serif" transform="translate(500.47 821.6) rotate(-90)">09/04</text>
<line x1="519.09" y1="813.00" x2="519.09" y2="817.30" stroke="#333" stroke-width="1.3"/>
<text x="0.0" y="0.0" font-size="12.8" fill="#555555" text-anchor="end" textLength="31.0" lengthAdjust="spacingAndGlyphs" font-family="&quot;Liberation Sans&quot;, sans-serif" transform="translate(523.69 821.6) rotate(-90)">16/04</text>
<line x1="542.30" y1="813.00" x2="542.30" y2="817.30" stroke="#333" stroke-width="1.3"/>
<text x="0.0" y="0.0" font-size="12.8" fill="#555555" text-anchor="end" textLength="31.0" lengthAdjust="spacingAndGlyphs" font-family="&quot;Liberation Sans&quot;, sans-serif" transform="translate(546.90 821.6) rotate(-90)">23/04</text>
<line x1="565.52" y1="813.00" x2="565.52" y2="817.30" stroke="#333" stroke-width="1.3"/>
<text x="0.0" y="0.0" font-size="12.8" fill="#555555" text-anchor="end" textLength="31.0" lengthAdjust="spacingAndGlyphs" font-family="&quot;Liberation Sans&quot;, sans-serif" transform="translate(570.12 821.6) rotate(-90)">30/04</text>
<line x1="588.74" y1="813.00" x2="588.74" y2="817.30" stroke="#333" stroke-width="1.3"/>
<text x="0.0" y="0.0" font-size="12.8" fill="#555555" text-anchor="end" textLength="31.0" lengthAdjust="spacingAndGlyphs" font-family="&quot;Liberation Sans&quot;, sans-serif" transform="translate(593.34 821.6) rotate(-90)">07/05</text>
<line x1="611.96" y1="813.00" x2="611.96" y2="817.30" stroke="#333" stroke-width="1.3"/>
<text x="0.0" y="0.0" font-size="12.8" fill="#555555" text-anchor="end" textLength="31.0" lengthAdjust="spacingAndGlyphs" font-family="&quot;Liberation Sans&quot;, sans-serif" transform="translate(616.56 821.6) rotate(-90)">14/05</text>
<line x1="635.18" y1="813.00" x2="635.18" y2="817.30" stroke="#333" stroke-width="1.3"/>
<text x="0.0" y="0.0" font-size="12.8" fill="#555555" text-anchor="end" textLength="31.0" lengthAdjust="spacingAndGlyphs" font-family="&quot;Liberation Sans&quot;, sans-serif" transform="translate(639.78 821.6) rotate(-90)">21/05</text>
<line x1="658.40" y1="813.00" x2="658.40" y2="817.30" stroke="#333" stroke-width="1.3"/>
<text x="0.0" y="0.0" font-size="12.8" fill="#555555" text-anchor="end" textLength="31.0" lengthAdjust="spacingAndGlyphs" font-family="&quot;Liberation Sans&quot;, sans-serif" transform="translate(663.00 821.6) rotate(-90)">28/05</text>
<line x1="681.62" y1="813.00" x2="681.62" y2="817.30" stroke="#333" stroke-width="1.3"/>
<text x="0.0" y="0.0" font-size="12.8" fill="#555555" text-anchor="end" textLength="31.0" lengthAdjust="spacingAndGlyphs" font-family="&quot;Liberation Sans&quot;, sans-serif" transform="translate(686.22 821.6) rotate(-90)">04/06</text>
<line x1="704.84" y1="813.00" x2="704.84" y2="817.30" stroke="#333" stroke-width="1.3"/>
<text x="0.0" y="0.0" font-size="12.8" fill="#555555" text-anchor="end" textLength="31.0" lengthAdjust="spacingAndGlyphs" font-family="&quot;Liberation Sans&quot;, sans-serif" transform="translate(709.44 821.6) rotate(-90)">11/06</text>
<line x1="728.06" y1="813.00" x2="728.06" y2="817.30" stroke="#333" stroke-width="1.3"/>
<text x="0.0" y="0.0" font-size="12.8" fill="#555555" text-anchor="end" textLength="31.0" lengthAdjust="spacingAndGlyphs" font-family="&quot;Liberation Sans&quot;, sans-serif" transform="translate(732.66 821.6) rotate(-90)">18/06</text>
<line x1="751.28" y1="813.00" x2="751.28" y2="817.30" stroke="#333" stroke-width="1.3"/>
<text x="0.0" y="0.0" font-size="12.8" fill="#555555" text-anchor="end" textLength="31.0" lengthAdjust="spacingAndGlyphs" font-family="&quot;Liberation Sans&quot;, sans-serif" transform="translate(755.88 821.6) rotate(-90)">25/06</text>
<line x1="774.49" y1="813.00" x2="774.49" y2="817.30" stroke="#333" stroke-width="1.3"/>
<text x="0.0" y="0.0" font-size="12.8" fill="#555555" text-anchor="end" textLength="31.0" lengthAdjust="spacingAndGlyphs" font-family="&quot;Liberation Sans&quot;, sans-serif" transform="translate(779.09 821.6) rotate(-90)">02/07</text>
<line x1="797.71" y1="813.00" x2="797.71" y2="817.30" stroke="#333" stroke-width="1.3"/>
<text x="0.0" y="0.0" font-size="12.8" fill="#555555" text-anchor="end" textLength="31.0" lengthAdjust="spacingAndGlyphs" font-family="&quot;Liberation Sans&quot;, sans-serif" transform="translate(802.31 821.6) rotate(-90)">09/07</text>
<line x1="820.93" y1="813.00" x2="820.93" y2="817.30" stroke="#333" stroke-width="1.3"/>
<text x="0.0" y="0.0" font-size="12.8" fill="#555555" text-anchor="end" textLength="31.0" lengthAdjust="spacingAndGlyphs" font-family="&quot;Liberation Sans&quot;, sans-serif" transform="translate(825.53 821.6) rotate(-90)">16/07</text>
<line x1="844.15" y1="813.00" x2="844.15" y2="817.30" stroke="#333" stroke-width="1.3"/>
<text x="0.0" y="0.0" font-size="12.8" fill="#555555" text-anchor="end" textLength="31.0" lengthAdjust="spacingAndGlyphs" font-family="&quot;Liberation Sans&quot;, sans-serif" transform="translate(848.75 821.6) rotate(-90)">23/07</text>
<line x1="867.37" y1="813.00" x2="867.37" y2="817.30" stroke="#333" stroke-width="1.3"/>
<text x="0.0" y="0.0" font-size="12.8" fill="#555555" text-anchor="end" textLength="31.0" lengthAdjust="spacingAndGlyphs" font-family="&quot;Liberation Sans&quot;, sans-serif" transform="translate(871.97 821.6) rotate(-90)">30/07</text>
<line x1="890.59" y1="813.00" x2="890.59" y2="817.30" stroke="#333" stroke-width="1.3"/>
<text x="0.0" y="0.0" font-size="12.8" fill="#555555" text-anchor="end" textLength="31.0" lengthAdjust="spacingAndGlyphs" font-family="&quot;Liberation Sans&quot;, sans-serif" transform="translate(895.19 821.6) rotate(-90)">06/08</text>
<line x1="913.81" y1="813.00" x2="913.81" y2="817.30" stroke="#333" stroke-width="1.3"/>
<text x="0.0" y="0.0" font-size="12.8" fill="#555555" text-anchor="end" textLength="31.0" lengthAdjust="spacingAndGlyphs" font-family="&quot;Liberation Sans&quot;, sans-serif" transform="translate(918.41 821.6) rotate(-90)">13/08</text>
<line x1="937.03" y1="813.00" x2="937.03" y2="817.30" stroke="#333" stroke-width="1.3"/>
<text x="0.0" y="0.0" font-size="12.8" fill="#555555" text-anchor="end" textLength="31.0" lengthAdjust="spacingAndGlyphs" font-family="&quot;Liberation Sans&quot;, sans-serif" transform="translate(941.63 821.6) rotate(-90)">20/08</text>
<line x1="960.25" y1="813.00" x2="960.25" y2="817.30" stroke="#333" stroke-width="1.3"/>
<text x="0.0" y="0.0" font-size="12.8" fill="#555555" text-anchor="end" textLength="31.0" lengthAdjust="spacingAndGlyphs" font-family="&quot;Liberation Sans&quot;, sans-serif" transform="translate(964.85 821.6) rotate(-90)">27/08</text>
<line x1="983.47" y1="813.00" x2="983.47" y2="817.30" stroke="#333" stroke-width="1.3"/>
<text x="0.0" y="0.0" font-size="12.8" fill="#555555" text-anchor="end" textLength="31.0" lengthAdjust="spacingAndGlyphs" font-family="&quot;Liberation Sans&quot;, sans-serif" transform="translate(988.07 821.6) rotate(-90)">03/09</text>
<line x1="1006.68" y1="813.00" x2="1006.68" y2="817.30" stroke="#333" stroke-width="1.3"/>
<text x="0.0" y="0.0" font-size="12.8" fill="#555555" text-anchor="end" textLength="31.0" lengthAdjust="spacingAndGlyphs" font-family="&quot;Liberation Sans&quot;, sans-serif" transform="translate(1011.28 821.6) rotate(-90)">10/09</text>
<line x1="1029.90" y1="813.00" x2="1029.90" y2="817.30" stroke="#333" stroke-width="1.3"/>
<text x="0.0" y="0.0" font-size="12.8" fill="#555555" text-anchor="end" textLength="31.0" lengthAdjust="spacingAndGlyphs" font-family="&quot;Liberation Sans&quot;, sans-serif" transform="translate(1034.50 821.6) rotate(-90)">17/09</text>
<line x1="1053.12" y1="813.00" x2="1053.12" y2="817.30" stroke="#333" stroke-width="1.3"/>
<text x="0.0" y="0.0" font-size="12.8" fill="#555555" text-anchor="end" textLength="31.0" lengthAdjust="spacingAndGlyphs" font-family="&quot;Liberation Sans&quot;, sans-serif" transform="translate(1057.72 821.6) rotate(-90)">24/09</text>
<line x1="1076.34" y1="813.00" x2="1076.34" y2="817.30" stroke="#333" stroke-width="1.3"/>
<text x="0.0" y="0.0" font-size="12.8" fill="#555555" text-anchor="end" textLength="31.0" lengthAdjust="spacingAndGlyphs" font-family="&quot;Liberation Sans&quot;, sans-serif" transform="translate(1080.94 821.6) rotate(-90)">01/10</text>
<line x1="1099.56" y1="813.00" x2="1099.56" y2="817.30" stroke="#333" stroke-width="1.3"/>
<text x="0.0" y="0.0" font-size="12.8" fill="#555555" text-anchor="end" textLength="31.0" lengthAdjust="spacingAndGlyphs" font-family="&quot;Liberation Sans&quot;, sans-serif" transform="translate(1104.16 821.6) rotate(-90)">08/10</text>
<line x1="1122.78" y1="813.00" x2="1122.78" y2="817.30" stroke="#333" stroke-width="1.3"/>
<text x="0.0" y="0.0" font-size="12.8" fill="#555555" text-anchor="end" textLength="31.0" lengthAdjust="spacingAndGlyphs" font-family="&quot;Liberation Sans&quot;, sans-serif" transform="translate(1127.38 821.6) rotate(-90)">15/10</text>
<line x1="1146.00" y1="813.00" x2="1146.00" y2="817.30" stroke="#333" stroke-width="1.3"/>
<text x="0.0" y="0.0" font-size="12.8" fill="#555555" text-anchor="end" textLength="31.0" lengthAdjust="spacingAndGlyphs" font-family="&quot;Liberation Sans&quot;, sans-serif" transform="translate(1150.60 821.6) rotate(-90)">22/10</text>
<line x1="1169.22" y1="813.00" x2="1169.22" y2="817.30" stroke="#333" stroke-width="1.3"/>
<text x="0.0" y="0.0" font-size="12.8" fill="#555555" text-anchor="end" textLength="31.0" lengthAdjust="spacingAndGlyphs" font-family="&quot;Liberation Sans&quot;, sans-serif" transform="translate(1173.82 821.6) rotate(-90)">29/10</text>
<line x1="1192.44" y1="813.00" x2="1192.44" y2="817.30" stroke="#333" stroke-width="1.3"/>
<text x="0.0" y="0.0" font-size="12.8" fill="#555555" text-anchor="end" textLength="31.0" lengthAdjust="spacingAndGlyphs" font-family="&quot;Liberation Sans&quot;, sans-serif" transform="translate(1197.04 821.6) rotate(-90)">05/11</text>
<line x1="1215.65" y1="813.00" x2="1215.65" y2="817.30" stroke="#333" stroke-width="1.3"/>
<text x="0.0" y="0.0" font-size="12.8" fill="#555555" text-anchor="end" textLength="31.0" lengthAdjust="spacingAndGlyphs" font-family="&quot;Liberation Sans&quot;, sans-serif" transform="translate(1220.25 821.6) rotate(-90)">12/11</text>
<line x1="1238.87" y1="813.00" x2="1238.87" y2="817.30" stroke="#333" stroke-width="1.3"/>
<text x="0.0" y="0.0" font-size="12.8" fill="#555555" text-anchor="end" textLength="31.0" lengthAdjust="spacingAndGlyphs" font-family="&quot;Liberation Sans&quot;, sans-serif" transform="translate(1243.47 821.6) rotate(-90)">19/11</text>
<line x1="1262.09" y1="813.00" x2="1262.09" y2="817.30" stroke="#333" stroke-width="1.3"/>
<text x="0.0" y="0.0" font-size="12.8" fill="#555555" text-anchor="end" textLength="31.0" lengthAdjust="spacingAndGlyphs" font-family="&quot;Liberation Sans&quot;, sans-serif" transform="translate(1266.69 821.6) rotate(-90)">26/11</text>
<line x1="1285.31" y1="813.00" x2="1285.31" y2="817.30" stroke="#333" stroke-width="1.3"/>
<text x="0.0" y="0.0" font-size="12.8" fill="#555555" text-anchor="end" textLength="31.0" lengthAdjust="spacingAndGlyphs" font-family="&quot;Liberation Sans&quot;, sans-serif" transform="translate(1289.91 821.6) rotate(-90)">03/12</text>
<line x1="1308.53" y1="813.00" x2="1308.53" y2="817.30" stroke="#333" stroke-width="1.3"/>
<text x="0.0" y="0.0" font-size="12.8" fill="#555555" text-anchor="end" textLength="31.0" lengthAdjust="spacingAndGlyphs" font-family="&quot;Liberation Sans&quot;, sans-serif" transform="translate(1313.13 821.6) rotate(-90)">10/12</text>
<line x1="1331.75" y1="813.00" x2="1331.75" y2="817.30" stroke="#333" stroke-width="1.3"/>
<text x="0.0" y="0.0" font-size="12.8" fill="#555555" text-anchor="end" textLength="31.0" lengthAdjust="spacingAndGlyphs" font-family="&quot;Liberation Sans&quot;, sans-serif" transform="translate(1336.35 821.6) rotate(-90)">17/12</text>
<line x1="1354.97" y1="813.00" x2="1354.97" y2="817.30" stroke="#333" stroke-width="1.3"/>
<text x="0.0" y="0.0" font-size="12.8" fill="#555555" text-anchor="end" textLength="31.0" lengthAdjust="spacingAndGlyphs" font-family="&quot;Liberation Sans&quot;, sans-serif" transform="translate(1359.57 821.6) rotate(-90)">24/12</text>
<line x1="1378.19" y1="813.00" x2="1378.19" y2="817.30" stroke="#333" stroke-width="1.3"/>
<text x="0.0" y="0.0" font-size="12.8" fill="#555555" text-anchor="end" textLength="31.0" lengthAdjust="spacingAndGlyphs" font-family="&quot;Liberation Sans&quot;, sans-serif" transform="translate(1382.79 821.6) rotate(-90)">31/12</text>
<line x1="1401.41" y1="813.00" x2="1401.41" y2="817.30" stroke="#333" stroke-width="1.3"/>
<text x="0.0" y="0.0" font-size="12.8" fill="#555555" text-anchor="end" textLength="31.0" lengthAdjust="spacingAndGlyphs" font-family="&quot;Liberation Sans&quot;, sans-serif" transform="translate(1406.01 821.6) rotate(-90)">07/01</text>
<line x1="1424.63" y1="813.00" x2="1424.63" y2="817.30" stroke="#333" stroke-width="1.3"/>
<text x="0.0" y="0.0" font-size="12.8" fill="#555555" text-anchor="end" textLength="31.0" lengthAdjust="spacingAndGlyphs" font-family="&quot;Liberation Sans&quot;, sans-serif" transform="translate(1429.23 821.6) rotate(-90)">14/01</text>
<line x1="1447.85" y1="813.00" x2="1447.85" y2="817.30" stroke="#333" stroke-width="1.3"/>
<text x="0.0" y="0.0" font-size="12.8" fill="#555555" text-anchor="end" textLength="31.0" lengthAdjust="spacingAndGlyphs" font-family="&quot;Liberation Sans&quot;, sans-serif" transform="translate(1452.44 821.6) rotate(-90)">21/01</text>
<line x1="1471.06" y1="813.00" x2="1471.06" y2="817.30" stroke="#333" stroke-width="1.3"/>
<text x="0.0" y="0.0" font-size="12.8" fill="#555555" text-anchor="end" textLength="31.0" lengthAdjust="spacingAndGlyphs" font-family="&quot;Liberation Sans&quot;, sans-serif" transform="translate(1475.66 821.6) rotate(-90)">28/01</text>
<line x1="1494.28" y1="813.00" x2="1494.28" y2="817.30" stroke="#333" stroke-width="1.3"/>
<text x="0.0" y="0.0" font-size="12.8" fill="#555555" text-anchor="end" textLength="31.0" lengthAdjust="spacingAndGlyphs" font-family="&quot;Liberation Sans&quot;, sans-serif" transform="translate(1498.88 821.6) rotate(-90)">04/02</text>
<line x1="1517.50" y1="813.00" x2="1517.50" y2="817.30" stroke="#333" stroke-width="1.3"/>
<text x="0.0" y="0.0" font-size="12.8" fill="#555555" text-anchor="end" textLength="31.0" lengthAdjust="spacingAndGlyphs" font-family="&quot;Liberation Sans&quot;, sans-serif" transform="translate(1522.10 821.6) rotate(-90)">11/02</text>
<line x1="1540.72" y1="813.00" x2="1540.72" y2="817.30" stroke="#333" stroke-width="1.3"/>
<text x="0.0" y="0.0" font-size="12.8" fill="#555555" text-anchor="end" textLength="31.0" lengthAdjust="spacingAndGlyphs" font-family="&quot;Liberation Sans&quot;, sans-serif" transform="translate(1545.32 821.6) rotate(-90)">18/02</text>
<text x="847.8" y="868.2" font-size="15.0" fill="#222" text-anchor="start" textLength="32.5" lengthAdjust="spacingAndGlyphs" font-family="&quot;Liberation Sans&quot;, sans-serif">Data</text>
<rect x="924.00" y="401.40" width="30.70" height="31.00" fill="#a3d9d0"/>
<rect x="924.00" y="435.50" width="30.70" height="30.30" fill="#6fb5ac"/>
<text x="964.4" y="423.5" font-size="14.6" fill="#6d6a6a" text-anchor="start" textLength="177.3" lengthAdjust="spacingAndGlyphs" font-family="&quot;Liberation Sans&quot;, sans-serif">Data de início de sintomas</text>
<text x="964.4" y="454.3" font-size="14.6" fill="#6d6a6a" text-anchor="start" textLength="214.0" lengthAdjust="spacingAndGlyphs" font-family="&quot;Liberation Sans&quot;, sans-serif">Data de diagnóstico/notificação</text>
<text x="92.0" y="917.9" font-size="39.0" fill="#6d6a6a" text-anchor="start" textLength="1119.0" lengthAdjust="spacingAndGlyphs" font-family="&quot;Liberation Sans&quot;, sans-serif">CARACTERIZAÇÃO DEMOGRÁFICA DOS CASOS CONFIRMADOS</text>
<line x1="90.70" y1="945.60" x2="1586.10" y2="945.60" stroke="#6e6a6b" stroke-width="2.6"/>
<text x="93.0" y="988.9" font-size="30.3" fill="#6d6a6a" text-anchor="start" textLength="236.4" lengthAdjust="spacingAndGlyphs" font-family="&quot;Liberation Sans&quot;, sans-serif">TOTAL DE CASOS</text>
<rect x="103.70" y="1025.50" width="193.10" height="93.80" fill="#5a9fae"/>
<rect x="342.60" y="1025.50" width="193.10" height="93.80" fill="#fe8a77"/>
<rect x="103.50" y="1192.20" width="193.30" height="93.80" fill="#b3b3b3"/>
<text x="129.0" y="1084.6" font-size="38.5" fill="#fff" font-weight="bold" text-anchor="start" textLength="142.6" lengthAdjust="spacingAndGlyphs" font-family="&quot;Liberation Sans&quot;, sans-serif">362 012</text>
<text x="365.4" y="1087.8" font-size="38.5" fill="#fff" font-weight="bold" text-anchor="start" textLength="142.6" lengthAdjust="spacingAndGlyphs" font-family="&quot;Liberation Sans&quot;, sans-serif">438 303</text>
<text x="165.6" y="1255.3" font-size="38.5" fill="#fff" font-weight="bold" text-anchor="start" textLength="64.6" lengthAdjust="spacingAndGlyphs" font-family="&quot;Liberation Sans&quot;, sans-serif">271</text>
<text x="149.0" y="1161.9" font-size="24.3" fill="#4ea9d6" font-weight="bold" text-anchor="start" textLength="106.9" lengthAdjust="spacingAndGlyphs" font-family="&quot;Liberation Sans&quot;, sans-serif">HOMENS</text>
<text x="377.6" y="1161.9" font-size="24.3" fill="#f58b78" font-weight="bold" text-anchor="start" textLength="128.9" lengthAdjust="spacingAndGlyphs" font-family="&quot;Liberation Sans&quot;, sans-serif">MULHERES</text>
<text x="99.4" y="1328.6" font-size="24.3" fill="#b5b5b5" font-weight="bold" text-anchor="start" textLength="201.8" lengthAdjust="spacingAndGlyphs" font-family="&quot;Liberation Sans&quot;, sans-serif">DESCONHECIDO*</text>
<text x="104.0" y="1390.0" font-size="22.0" fill="#606060" font-weight="bold" text-anchor="start" textLength="60.3" lengthAdjust="spacingAndGlyphs" font-family="&quot;Liberation Sans&quot;, sans-serif">*Nota</text>
<text x="104.0" y="1418.8" font-size="19.3" fill="#6d6d6d" text-anchor="start" textLength="544.4" lengthAdjust="spacingAndGlyphs" font-family="&quot;Liberation Sans&quot;, sans-serif">Os casos de sexo desconhecido encontram-se sob investigação,</text>
<text x="104.0" y="1446.0" font-size="19.3" fill="#6d6d6d" text-anchor="start" textLength="570.8" lengthAdjust="spacingAndGlyphs" font-family="&quot;Liberation Sans&quot;, sans-serif">uma vez que estes dados não são fornecidos de forma automática.</text>
<text x="801.6" y="1350.7" font-size="20.8" fill="#666" text-anchor="end" font-family="&quot;Liberation Sans&quot;, sans-serif">0</text>
<line x1="828.6" y1="1321.88" x2="1537" y2="1321.88" stroke="#8a8a8a" stroke-width="3" stroke-dasharray="3 5.3"/>
<text x="801.6" y="1329.3" font-size="20.8" fill="#666" text-anchor="end" font-family="&quot;Liberation Sans&quot;, sans-serif">5000</text>
<line x1="828.6" y1="1300.46" x2="1537" y2="1300.46" stroke="#8a8a8a" stroke-width="3" stroke-dasharray="3 5.3"/>
<text x="801.6" y="1307.9" font-size="20.8" fill="#666" text-anchor="end" font-family="&quot;Liberation Sans&quot;, sans-serif">10000</text>
<line x1="828.6" y1="1279.04" x2="1537" y2="1279.04" stroke="#8a8a8a" stroke-width="3" stroke-dasharray="3 5.3"/>
<text x="801.6" y="1286.5" font-size="20.8" fill="#666" text-anchor="end" font-family="&quot;Liberation Sans&quot;, sans-serif">15000</text>
<line x1="828.6" y1="1257.62" x2="1537" y2="1257.62" stroke="#8a8a8a" stroke-width="3" stroke-dasharray="3 5.3"/>
<text x="801.6" y="1265.1" font-size="20.8" fill="#666" text-anchor="end" font-family="&quot;Liberation Sans&quot;, sans-serif">20000</text>
<line x1="828.6" y1="1236.21" x2="1537" y2="1236.21" stroke="#8a8a8a" stroke-width="3" stroke-dasharray="3 5.3"/>
<text x="801.6" y="1243.7" font-size="20.8" fill="#666" text-anchor="end" font-family="&quot;Liberation Sans&quot;, sans-serif">25000</text>
<line x1="828.6" y1="1214.79" x2="1537" y2="1214.79" stroke="#8a8a8a" stroke-width="3" stroke-dasharray="3 5.3"/>
<text x="801.6" y="1222.2" font-size="20.8" fill="#666" text-anchor="end" font-family="&quot;Liberation Sans&quot;, sans-serif">30000</text>
<line x1="828.6" y1="1193.37" x2="1537" y2="1193.37" stroke="#8a8a8a" stroke-width="3" stroke-dasharray="3 5.3"/>
<text x="801.6" y="1200.8" font-size="20.8" fill="#666" text-anchor="end" font-family="&quot;Liberation Sans&quot;, sans-serif">35000</text>
<line x1="828.6" y1="1171.95" x2="1537" y2="1171.95" stroke="#8a8a8a" stroke-width="3" stroke-dasharray="3 5.3"/>
<text x="801.6" y="1179.4" font-size="20.8" fill="#666" text-anchor="end" font-family="&quot;Liberation Sans&quot;, sans-serif">40000</text>
<line x1="828.6" y1="1150.53" x2="1537" y2="1150.53" stroke="#8a8a8a" stroke-width="3" stroke-dasharray="3 5.3"/>
<text x="801.6" y="1158.0" font-size="20.8" fill="#666" text-anchor="end" font-family="&quot;Liberation Sans&quot;, sans-serif">45000</text>
<line x1="828.6" y1="1129.11" x2="1537" y2="1129.11" stroke="#8a8a8a" stroke-width="3" stroke-dasharray="3 5.3"/>
<text x="801.6" y="1136.6" font-size="20.8" fill="#666" text-anchor="end" font-family="&quot;Liberation Sans&quot;, sans-serif">50000</text>
<line x1="828.6" y1="1107.69" x2="1537" y2="1107.69" stroke="#8a8a8a" stroke-width="3" stroke-dasharray="3 5.3"/>
<text x="801.6" y="1115.1" font-size="20.8" fill="#666" text-anchor="end" font-family="&quot;Liberation Sans&quot;, sans-serif">55000</text>
<line x1="828.6" y1="1086.28" x2="1537" y2="1086.28" stroke="#8a8a8a" stroke-width="3" stroke-dasharray="3 5.3"/>
<text x="801.6" y="1093.7" font-size="20.8" fill="#666" text-anchor="end" font-family="&quot;Liberation Sans&quot;, sans-serif">60000</text>
<line x1="828.6" y1="1064.86" x2="1537" y2="1064.86" stroke="#8a8a8a" stroke-width="3" stroke-dasharray="3 5.3"/>
<text x="801.6" y="1072.3" font-size="20.8" fill="#666" text-anchor="end" font-family="&quot;Liberation Sans&quot;, sans-serif">65000</text>
<line x1="828.6" y1="1043.44" x2="1537" y2="1043.44" stroke="#8a8a8a" stroke-width="3" stroke-dasharray="3 5.3"/>
<text x="801.6" y="1050.9" font-size="20.8" fill="#666" text-anchor="end" font-family="&quot;Liberation Sans&quot;, sans-serif">70000</text>
<line x1="828.6" y1="1022.02" x2="1537" y2="1022.02" stroke="#8a8a8a" stroke-width="3" stroke-dasharray="3 5.3"/>
<text x="801.6" y="1029.5" font-size="20.8" fill="#666" text-anchor="end" font-family="&quot;Liberation Sans&quot;, sans-serif">75000</text>
<line x1="828.6" y1="1000.60" x2="1537" y2="1000.60" stroke="#8a8a8a" stroke-width="3" stroke-dasharray="3 5.3"/>
<text x="801.6" y="1008.0" font-size="20.8" fill="#666" text-anchor="end" font-family="&quot;Liberation Sans&quot;, sans-serif">80000</text>
<rect x="839.20" y="1247.77" width="16.00" height="95.53" fill="#5a9fae"/>
<rect x="857.20" y="1252.05" width="16.00" height="91.25" fill="#fe8a77"/>
<rect x="918.90" y="1185.22" width="16.00" height="158.08" fill="#5a9fae"/>
<rect x="936.90" y="1183.51" width="16.00" height="159.79" fill="#fe8a77"/>
<rect x="998.60" y="1114.96" width="16.00" height="228.34" fill="#5a9fae"/>
<rect x="1016.60" y="1084.12" width="16.00" height="259.18" fill="#fe8a77"/>
<rect x="1078.30" y="1120.10" width="16.00" height="223.20" fill="#5a9fae"/>
<rect x="1096.30" y="1075.55" width="16.00" height="267.75" fill="#fe8a77"/>
<rect x="1158.00" y="1091.83" width="16.00" height="251.47" fill="#5a9fae"/>
<rect x="1176.00" y="1024.14" width="16.00" height="319.16" fill="#fe8a77"/>
<rect x="1237.70" y="1120.96" width="16.00" height="222.34" fill="#5a9fae"/>
<rect x="1255.70" y="1059.27" width="16.00" height="284.03" fill="#fe8a77"/>
<rect x="1317.40" y="1177.51" width="16.00" height="165.79" fill="#5a9fae"/>
<rect x="1335.40" y="1164.23" width="16.00" height="179.07" fill="#fe8a77"/>
<rect x="1397.10" y="1238.34" width="16.00" height="104.96" fill="#5a9fae"/>
<rect x="1415.10" y="1223.78" width="16.00" height="119.52" fill="#fe8a77"/>
<rect x="1476.80" y="1250.34" width="16.00" height="92.96" fill="#5a9fae"/>
<rect x="1494.80" y="1153.52" width="16.00" height="189.78" fill="#fe8a77"/>
<line x1="825.60" y1="1000.60" x2="825.60" y2="1344.80" stroke="#8f8f8f" stroke-width="2.6"/>
<line x1="824.60" y1="1343.30" x2="1541.70" y2="1343.30" stroke="#8f8f8f" stroke-width="3"/>
<text x="0.0" y="0.0" font-size="22.7" fill="#666" text-anchor="middle" textLength="172.0" lengthAdjust="spacingAndGlyphs" font-family="&quot;Liberation Sans&quot;, sans-serif" transform="translate(729.6 1172) rotate(-90)">TOTAL DE CASOS</text>
<text x="865.4" y="1388.4" font-size="23.0" fill="#666" text-anchor="middle" textLength="61.8" lengthAdjust="spacingAndGlyphs" font-family="&quot;Liberation Sans&quot;, sans-serif">00-09</text>
<text x="945.0" y="1388.4" font-size="23.0" fill="#666" text-anchor="middle" textLength="61.8" lengthAdjust="spacingAndGlyphs" font-family="&quot;Liberation Sans&quot;, sans-serif">10-19</text>
<text x="1024.5" y="1388.4" font-size="23.0" fill="#666" text-anchor="middle" textLength="61.8" lengthAdjust="spacingAndGlyphs" font-family="&quot;Liberation Sans&quot;, sans-serif">20-29</text>
<text x="1104.1" y="1388.4" font-size="23.0" fill="#666" text-anchor="middle" textLength="61.8" lengthAdjust="spacingAndGlyphs" font-family="&quot;Liberation Sans&quot;, sans-serif">30-39</text>
<text x="1183.7" y="1388.4" font-size="23.0" fill="#666" text-anchor="middle" textLength="61.8" lengthAdjust="spacingAndGlyphs" font-family="&quot;Liberation Sans&quot;, sans-serif">40-49</text>
<text x="1263.2" y="1388.4" font-size="23.0" fill="#666" text-anchor="middle" textLength="61.8" lengthAdjust="spacingAndGlyphs" font-family="&quot;Liberation Sans&quot;, sans-serif">50-59</text>
<text x="1342.8" y="1388.4" font-size="23.0" fill="#666" text-anchor="middle" textLength="61.8" lengthAdjust="spacingAndGlyphs" font-family="&quot;Liberation Sans&quot;, sans-serif">60-69</text>
<text x="1422.4" y="1388.4" font-size="23.0" fill="#666" text-anchor="middle" textLength="61.8" lengthAdjust="spacingAndGlyphs" font-family="&quot;Liberation Sans&quot;, sans-serif">70-79</text>
<text x="1501.9" y="1388.4" font-size="23.0" fill="#666" text-anchor="middle" textLength="40.6" lengthAdjust="spacingAndGlyphs" font-family="&quot;Liberation Sans&quot;, sans-serif">80+</text>
<text x="1098.3" y="1430.2" font-size="23.7" fill="#666" text-anchor="start" textLength="169.5" lengthAdjust="spacingAndGlyphs" font-family="&quot;Liberation Sans&quot;, sans-serif">GRUPO ETÁRIO</text>
<text x="95.8" y="1530.0" font-size="39.0" fill="#6d6a6a" text-anchor="start" textLength="835.8" lengthAdjust="spacingAndGlyphs" font-family="&quot;Liberation Sans&quot;, sans-serif">CARACTERIZAÇÃO DOS ÓBITOS POR COVID-19</text>
<line x1="94.70" y1="1558.90" x2="1590.00" y2="1558.90" stroke="#6e6a6b" stroke-width="2.6"/>
<text x="96.8" y="1601.0" font-size="30.3" fill="#6d6a6a" text-anchor="start" textLength="246.2" lengthAdjust="spacingAndGlyphs" font-family="&quot;Liberation Sans&quot;, sans-serif">TOTAL DE ÓBITOS</text>
<rect x="104.10" y="1645.90" width="193.50" height="94.20" fill="#5a9fae"/>
<rect x="341.80" y="1645.90" width="193.10" height="94.20" fill="#fe8a77"/>
<text x="147.5" y="1704.6" font-size="38.5" fill="#fff" font-weight="bold" text-anchor="start" textLength="98.5" lengthAdjust="spacingAndGlyphs" font-family="&quot;Liberation Sans&quot;, sans-serif">8 434</text>
<text x="388.3" y="1706.6" font-size="38.5" fill="#fff" font-weight="bold" text-anchor="start" textLength="97.3" lengthAdjust="spacingAndGlyphs" font-family="&quot;Liberation Sans&quot;, sans-serif">7 702</text>
<text x="145.9" y="1782.7" font-size="24.3" fill="#4ea9d6" font-weight="bold" text-anchor="start" textLength="107.2" lengthAdjust="spacingAndGlyphs" font-family="&quot;Liberation Sans&quot;, sans-serif">HOMENS</text>
<text x="377.2" y="1782.7" font-size="24.3" fill="#f58b78" font-weight="bold" text-anchor="start" textLength="128.1" lengthAdjust="spacingAndGlyphs" font-family="&quot;Liberation Sans&quot;, sans-serif">MULHERES</text>
<text x="804.4" y="1913.4" font-size="19.4" fill="#666" text-anchor="end" font-family="&quot;Liberation Sans&quot;, sans-serif">0</text>
<line x1="830.5" y1="1886.19" x2="1540" y2="1886.19" stroke="#8a8a8a" stroke-width="3" stroke-dasharray="3 5.3"/>
<text x="804.4" y="1893.1" font-size="19.4" fill="#666" text-anchor="end" font-family="&quot;Liberation Sans&quot;, sans-serif">500</text>
<line x1="830.5" y1="1865.88" x2="1540" y2="1865.88" stroke="#8a8a8a" stroke-width="3" stroke-dasharray="3 5.3"/>
<text x="804.4" y="1872.8" font-size="19.4" fill="#666" text-anchor="end" font-family="&quot;Liberation Sans&quot;, sans-serif">1000</text>
<line x1="830.5" y1="1845.58" x2="1540" y2="1845.58" stroke="#8a8a8a" stroke-width="3" stroke-dasharray="3 5.3"/>
<text x="804.4" y="1852.5" font-size="19.4" fill="#666" text-anchor="end" font-family="&quot;Liberation Sans&quot;, sans-serif">1500</text>
<line x1="830.5" y1="1825.27" x2="1540" y2="1825.27" stroke="#8a8a8a" stroke-width="3" stroke-dasharray="3 5.3"/>
<text x="804.4" y="1832.2" font-size="19.4" fill="#666" text-anchor="end" font-family="&quot;Liberation Sans&quot;, sans-serif">2000</text>
<line x1="830.5" y1="1804.96" x2="1540" y2="1804.96" stroke="#8a8a8a" stroke-width="3" stroke-dasharray="3 5.3"/>
<text x="804.4" y="1811.9" font-size="19.4" fill="#666" text-anchor="end" font-family="&quot;Liberation Sans&quot;, sans-serif">2500</text>
<line x1="830.5" y1="1784.65" x2="1540" y2="1784.65" stroke="#8a8a8a" stroke-width="3" stroke-dasharray="3 5.3"/>
<text x="804.4" y="1791.6" font-size="19.4" fill="#666" text-anchor="end" font-family="&quot;Liberation Sans&quot;, sans-serif">3000</text>
<line x1="830.5" y1="1764.35" x2="1540" y2="1764.35" stroke="#8a8a8a" stroke-width="3" stroke-dasharray="3 5.3"/>
<text x="804.4" y="1771.3" font-size="19.4" fill="#666" text-anchor="end" font-family="&quot;Liberation Sans&quot;, sans-serif">3500</text>
<line x1="830.5" y1="1744.04" x2="1540" y2="1744.04" stroke="#8a8a8a" stroke-width="3" stroke-dasharray="3 5.3"/>
<text x="804.4" y="1751.0" font-size="19.4" fill="#666" text-anchor="end" font-family="&quot;Liberation Sans&quot;, sans-serif">4000</text>
<line x1="830.5" y1="1723.73" x2="1540" y2="1723.73" stroke="#8a8a8a" stroke-width="3" stroke-dasharray="3 5.3"/>
<text x="804.4" y="1730.7" font-size="19.4" fill="#666" text-anchor="end" font-family="&quot;Liberation Sans&quot;, sans-serif">4500</text>
<line x1="830.5" y1="1703.42" x2="1540" y2="1703.42" stroke="#8a8a8a" stroke-width="3" stroke-dasharray="3 5.3"/>
<text x="804.4" y="1710.4" font-size="19.4" fill="#666" text-anchor="end" font-family="&quot;Liberation Sans&quot;, sans-serif">5000</text>
<line x1="830.5" y1="1683.12" x2="1540" y2="1683.12" stroke="#8a8a8a" stroke-width="3" stroke-dasharray="3 5.3"/>
<text x="804.4" y="1690.1" font-size="19.4" fill="#666" text-anchor="end" font-family="&quot;Liberation Sans&quot;, sans-serif">5500</text>
<line x1="830.5" y1="1662.81" x2="1540" y2="1662.81" stroke="#8a8a8a" stroke-width="3" stroke-dasharray="3 5.3"/>
<text x="804.4" y="1669.8" font-size="19.4" fill="#666" text-anchor="end" font-family="&quot;Liberation Sans&quot;, sans-serif">6000</text>
<line x1="830.5" y1="1642.50" x2="1540" y2="1642.50" stroke="#8a8a8a" stroke-width="3" stroke-dasharray="3 5.3"/>
<text x="804.4" y="1649.4" font-size="19.4" fill="#666" text-anchor="end" font-family="&quot;Liberation Sans&quot;, sans-serif">6500</text>
<rect x="844.60" y="1906.46" width="21.00" height="0.04" fill="#5a9fae"/>
<rect x="867.60" y="1906.50" width="21.00" height="0.00" fill="#fe8a77"/>
<rect x="924.40" y="1906.46" width="21.00" height="0.04" fill="#5a9fae"/>
<rect x="947.40" y="1906.50" width="21.00" height="0.00" fill="#fe8a77"/>
<rect x="1004.20" y="1906.42" width="21.00" height="0.08" fill="#5a9fae"/>
<rect x="1027.20" y="1906.46" width="21.00" height="0.04" fill="#fe8a77"/>
<rect x="1084.00" y="1906.34" width="21.00" height="0.16" fill="#5a9fae"/>
<rect x="1107.00" y="1906.42" width="21.00" height="0.08" fill="#fe8a77"/>
<rect x="1163.80" y="1903.86" width="21.00" height="2.64" fill="#5a9fae"/>
<rect x="1186.80" y="1905.44" width="21.00" height="1.06" fill="#fe8a77"/>
<rect x="1243.60" y="1895.38" width="21.00" height="11.12" fill="#5a9fae"/>
<rect x="1266.60" y="1902.81" width="21.00" height="3.69" fill="#fe8a77"/>
<rect x="1323.40" y="1867.28" width="21.00" height="39.22" fill="#5a9fae"/>
<rect x="1346.40" y="1890.06" width="21.00" height="16.44" fill="#fe8a77"/>
<rect x="1403.20" y="1821.16" width="21.00" height="85.34" fill="#5a9fae"/>
<rect x="1426.20" y="1856.16" width="21.00" height="50.34" fill="#fe8a77"/>
<rect x="1483.00" y="1707.72" width="21.00" height="198.78" fill="#5a9fae"/>
<rect x="1506.00" y="1671.18" width="21.00" height="235.32" fill="#fe8a77"/>
<line x1="827.50" y1="1642.50" x2="827.50" y2="1908.00" stroke="#8f8f8f" stroke-width="2.6"/>
<line x1="826.50" y1="1906.50" x2="1544.50" y2="1906.50" stroke="#8f8f8f" stroke-width="3"/>
<text x="0.0" y="0.0" font-size="22.7" fill="#666" text-anchor="middle" textLength="178.7" lengthAdjust="spacingAndGlyphs" font-family="&quot;Liberation Sans&quot;, sans-serif" transform="translate(747.7 1775) rotate(-90)">TOTAL DE ÓBITOS</text>
<text x="867.0" y="1951.4" font-size="23.8" fill="#666" text-anchor="middle" textLength="62.0" lengthAdjust="spacingAndGlyphs" font-family="&quot;Liberation Sans&quot;, sans-serif">00-09</text>
<text x="946.7" y="1951.4" font-size="23.8" fill="#666" text-anchor="middle" textLength="62.0" lengthAdjust="spacingAndGlyphs" font-family="&quot;Liberation Sans&quot;, sans-serif">10-19</text>
<text x="1026.3" y="1951.4" font-size="23.8" fill="#666" text-anchor="middle" textLength="62.0" lengthAdjust="spacingAndGlyphs" font-family="&quot;Liberation Sans&quot;, sans-serif">20-29</text>
<text x="1106.0" y="1951.4" font-size="23.8" fill="#666" text-anchor="middle" textLength="62.0" lengthAdjust="spacingAndGlyphs" font-family="&quot;Liberation Sans&quot;, sans-serif">30-39</text>
<text x="1185.8" y="1951.4" font-size="23.8" fill="#666" text-anchor="middle" textLength="62.0" lengthAdjust="spacingAndGlyphs" font-family="&quot;Liberation Sans&quot;, sans-serif">40-49</text>
<text x="1265.5" y="1951.4" font-size="23.8" fill="#666" text-anchor="middle" textLength="62.0" lengthAdjust="spacingAndGlyphs" font-family="&quot;Liberation Sans&quot;, sans-serif">50-59</text>
<text x="1345.2" y="1951.4" font-size="23.8" fill="#666" text-anchor="middle" textLength="62.0" lengthAdjust="spacingAndGlyphs" font-family="&quot;Liberation Sans&quot;, sans-serif">60-69</text>
<text x="1424.8" y="1951.4" font-size="23.8" fill="#666" text-anchor="middle" textLength="62.0" lengthAdjust="spacingAndGlyphs" font-family="&quot;Liberation Sans&quot;, sans-serif">70-79</text>
<text x="1504.6" y="1951.4" font-size="23.8" fill="#666" text-anchor="middle" textLength="40.6" lengthAdjust="spacingAndGlyphs" font-family="&quot;Liberation Sans&quot;, sans-serif">80+</text>
<text x="1101.0" y="1987.0" font-size="23.7" fill="#666" text-anchor="start" textLength="169.4" lengthAdjust="spacingAndGlyphs" font-family="&quot;Liberation Sans&quot;, sans-serif">GRUPO ETÁRIO</text>
<text x="78.8" y="2064.5" font-size="21.6" fill="#636363" font-weight="bold" text-anchor="start" textLength="204.8" lengthAdjust="spacingAndGlyphs" font-family="&quot;Liberation Sans&quot;, sans-serif">Nota metodológica</text>
<text x="80.8" y="2094.0" font-size="20.6" fill="#6d6d6d" text-anchor="start" textLength="1035.0" lengthAdjust="spacingAndGlyphs" font-family="&quot;Liberation Sans&quot;, sans-serif">A 16 de novembro de 2020 houve uma atualização do sistema tecnológico de análise de dados provenientes do SINAVE.</text>
<text x="78.8" y="2121.7" font-size="20.6" fill="#6d6d6d" text-anchor="start" textLength="730.0" lengthAdjust="spacingAndGlyphs" font-family="&quot;Liberation Sans&quot;, sans-serif">Foi atualizado o número cumulativo de casos confirmados e recuperados nessa data.</text>
<line x1="86.00" y1="2146.50" x2="1582.00" y2="2146.50" stroke="#8a8a8a" stroke-width="2.4"/>
<text x="100.0" y="2184.0" font-size="27.0" fill="#8f8f8f" text-anchor="start" textLength="432.0" lengthAdjust="spacingAndGlyphs" font-family="&quot;Liberation Sans&quot;, sans-serif">Dados até dia 23-02-2021 23:59:59</text>
<defs>
<linearGradient id="gtop" x1="0" y1="0" x2="1" y2="1"><stop offset="0" stop-color="#8cc04a"/><stop offset="0.45" stop-color="#5aa040"/><stop offset="0.55" stop-color="#0a6e3a"/><stop offset="1" stop-color="#0a6e3a"/></linearGradient>
<linearGradient id="swo" x1="0" y1="0" x2="1" y2="0"><stop offset="0" stop-color="#c8c028"/><stop offset="0.25" stop-color="#f0c22a"/><stop offset="0.6" stop-color="#eca02a"/><stop offset="1" stop-color="#e0501c"/></linearGradient>
<linearGradient id="swo2" x1="0" y1="0" x2="0" y2="1"><stop offset="0" stop-color="#f0c22a" stop-opacity="0"/><stop offset="0.6" stop-color="#f0c22a" stop-opacity="0"/><stop offset="1" stop-color="#1a9a48" stop-opacity="0.8"/></linearGradient>
</defs>
<g transform="translate(875 2215) scale(0.033863)">
<path d="M210,1590 C200,1300 210,900 250,680 C320,430 500,260 690,205 L705,1130 C560,1160 420,1260 330,1380 C270,1460 230,1530 210,1590 Z" fill="#0a6e3a"/>
<path d="M250,680 C320,430 500,260 690,205 L700,380 C520,440 380,560 300,720 Z" fill="#86bf48"/>
<path d="M720,330 C900,290 1100,240 1330,210 C1320,400 1310,700 1300,900 C1260,1080 1150,1180 950,1230 C700,1280 450,1320 290,1470 C380,1310 520,1200 720,1140 Z" fill="#e8191b"/>
<path d="M270,1620 C360,1520 500,1440 640,1400 L640,1790 C480,1780 330,1740 270,1700 Z" fill="#0a6e3a"/>
<circle cx="705" cy="780" r="310" fill="#f2d21a"/>
<circle cx="705" cy="780" r="250" fill="#e8191b"/>
<path d="M520,580 H860 V830 C860,930 790,990 690,990 C590,990 520,930 520,830 Z" fill="#e8191b" stroke="#ffffff" stroke-width="30"/>
<path d="M620,650 H820 V850 C820,910 780,940 720,940 C660,940 620,910 620,850 Z" fill="#ffffff"/>
<rect x="690" y="690" width="40" height="40" fill="#2a4aa8"/><rect x="630" y="770" width="40" height="40" fill="#2a4aa8"/><rect x="690" y="770" width="40" height="40" fill="#2a4aa8"/><rect x="750" y="770" width="40" height="40" fill="#2a4aa8"/><rect x="690" y="850" width="40" height="40" fill="#2a4aa8"/>
<circle cx="470" cy="710" r="40" fill="#111"/>
<circle cx="470" cy="830" r="40" fill="#111"/>
<circle cx="950" cy="830" r="40" fill="#111"/>
<circle cx="540" cy="970" r="40" fill="#111"/>
<circle cx="880" cy="970" r="40" fill="#111"/>
<circle cx="950" cy="700" r="40" fill="#111"/>
</g>
<text x="934.9" y="2242.6" font-size="22.6" fill="#3a3a3a" font-weight="bold" textLength="116.4" lengthAdjust="spacingAndGlyphs" font-family="&quot;Liberation Serif&quot;, serif">REPÚBLICA</text>
<text x="934.9" y="2265" font-size="22.6" fill="#3a3a3a" font-weight="bold" textLength="142.6" lengthAdjust="spacingAndGlyphs" font-family="&quot;Liberation Serif&quot;, serif">PORTUGUESA</text>
<rect x="934.5" y="2274.8" width="143.5" height="1.3" fill="#444"/>
<text x="934.9" y="2294.3" font-size="11" fill="#444" font-weight="bold" textLength="36.4" lengthAdjust="spacingAndGlyphs" font-family="&quot;Liberation Sans&quot;, sans-serif">SAÚDE</text>
<g transform="translate(1105 2220) scale(0.05234)">
<circle cx="785" cy="782" r="680" fill="#0b9b4a"/>
<path d="M470,170 A680,680 0 0 1 1300,340 C1150,240 900,240 700,330 L560,410 L430,405 Z" fill="#d81e16"/>
<path d="M560,1440 L515,1050 C600,800 800,650 1070,640 C1250,640 1400,700 1455,760 A680,680 0 0 0 1300,340 C1150,240 900,240 700,330 C500,430 380,650 330,850 C290,1000 270,1150 300,1260 A680,680 0 0 0 560,1440 Z" fill="url(#swo)"/>
<path d="M560,1440 L515,1050 C480,950 400,900 330,900 C290,1000 270,1150 300,1260 A680,680 0 0 0 560,1440 Z" fill="url(#swo2)"/>
<path d="M1070,640 C1250,640 1400,700 1455,760 A680,680 0 0 1 1410,1020 L1160,1105 C1150,900 1120,750 1070,640 Z" fill="#cc1a14"/>
<path d="M515,1050 C600,800 800,650 1070,640 C1120,750 1150,900 1160,1105 C1000,1160 800,1170 515,1050 Z" fill="#ffffff"/>
<path d="M430,405 L575,415 C480,500 420,580 395,620 Z" fill="#ffffff"/>
</g>
<rect x="1196" y="2224.8" width="1.6" height="71.6" fill="#777"/>
<text x="1212.3" y="2258" font-size="46" fill="#555" font-weight="bold" textLength="73.2" lengthAdjust="spacingAndGlyphs" font-family="&quot;Liberation Sans&quot;, sans-serif">SNS</text>
<text x="1212.3" y="2276.5" font-size="16.5" fill="#666" textLength="120.4" lengthAdjust="spacingAndGlyphs" font-family="&quot;Liberation Sans&quot;, sans-serif">SERVIÇO NACIONAL</text>
<text x="1212.3" y="2296.4" font-size="16.5" fill="#666" textLength="60.6" lengthAdjust="spacingAndGlyphs" font-family="&quot;Liberation Sans&quot;, sans-serif">DE SAÚDE</text>
<g transform="translate(1365 2225) scale(0.0431)">
<path d="M210,460 C240,320 330,235 420,235 L820,215 C950,190 1100,180 1160,220 C1200,270 1210,320 1170,370 C1000,430 800,480 600,480 C450,470 300,440 210,460 Z" fill="#006b35"/>
<path d="M250,490 C400,520 600,520 800,500 C1000,460 1200,400 1360,350 L1450,570 C1200,640 900,700 640,690 C450,680 300,620 250,560 Z" fill="#ee1c1c"/>
<path d="M260,440 C400,400 600,420 800,500 C650,530 400,520 260,500 Z" fill="#8b1a1a"/>
<path d="M150,560 C300,620 450,680 640,690 C900,700 1150,660 1300,680 C1310,760 1290,840 1250,870 C1000,900 800,880 600,860 C450,840 280,810 150,800 Z" fill="#006b35"/>
<path d="M270,850 C500,920 800,940 1000,880 C1200,830 1350,800 1450,760 C1460,850 1400,1000 1350,1050 C1100,1080 800,1080 600,1060 C450,1040 320,960 270,900 Z" fill="#ee1c1c"/>
<path d="M270,810 C450,830 650,870 900,880 C700,920 450,920 280,880 Z" fill="#8b1a1a"/>
<path d="M180,920 C300,990 500,1060 700,1080 C900,1080 1100,1040 1210,1030 C1200,1120 1150,1170 1050,1190 C850,1200 650,1200 500,1180 C350,1120 250,1030 180,920 Z" fill="#006b35"/>
<path d="M500,1180 C700,1230 900,1240 1100,1170 C1200,1140 1300,1100 1340,1100 C1280,1200 1150,1300 1000,1350 C850,1380 700,1350 620,1300 C560,1260 520,1220 500,1180 Z" fill="#ee1c1c"/>
<path d="M490,1150 C650,1140 850,1200 1000,1230 C800,1260 600,1240 510,1200 Z" fill="#8b1a1a"/>
</g>
<text x="1444.2" y="2269.1" font-size="50" fill="#3d3d3d" stroke="#3d3d3d" stroke-width="1.1" font-weight="bold" textLength="96.0" lengthAdjust="spacingAndGlyphs" font-family="&quot;Liberation Sans&quot;, sans-serif">DGS</text>
<text x="1551.4" y="2247.7" font-size="13.5" fill="#666" textLength="29.5" lengthAdjust="spacingAndGlyphs" font-family="&quot;Liberation Sans&quot;, sans-serif">desde</text>
<text x="1551.4" y="2263.2" font-size="13.5" fill="#555" textLength="29.5" lengthAdjust="spacingAndGlyphs" font-family="&quot;Liberation Sans&quot;, sans-serif">1899</text>
<rect x="1550" y="2232.4" width="33" height="0.8" fill="#ddd"/>
<rect x="1550" y="2268.4" width="33" height="1.3" fill="#666"/>
<text x="1444.2" y="2287.6" font-size="12.5" fill="#555" textLength="138.2" lengthAdjust="spacingAndGlyphs" font-family="&quot;Liberation Sans&quot;, sans-serif">Direção-Geral da Saúde</text>
</svg>
</body></html>
